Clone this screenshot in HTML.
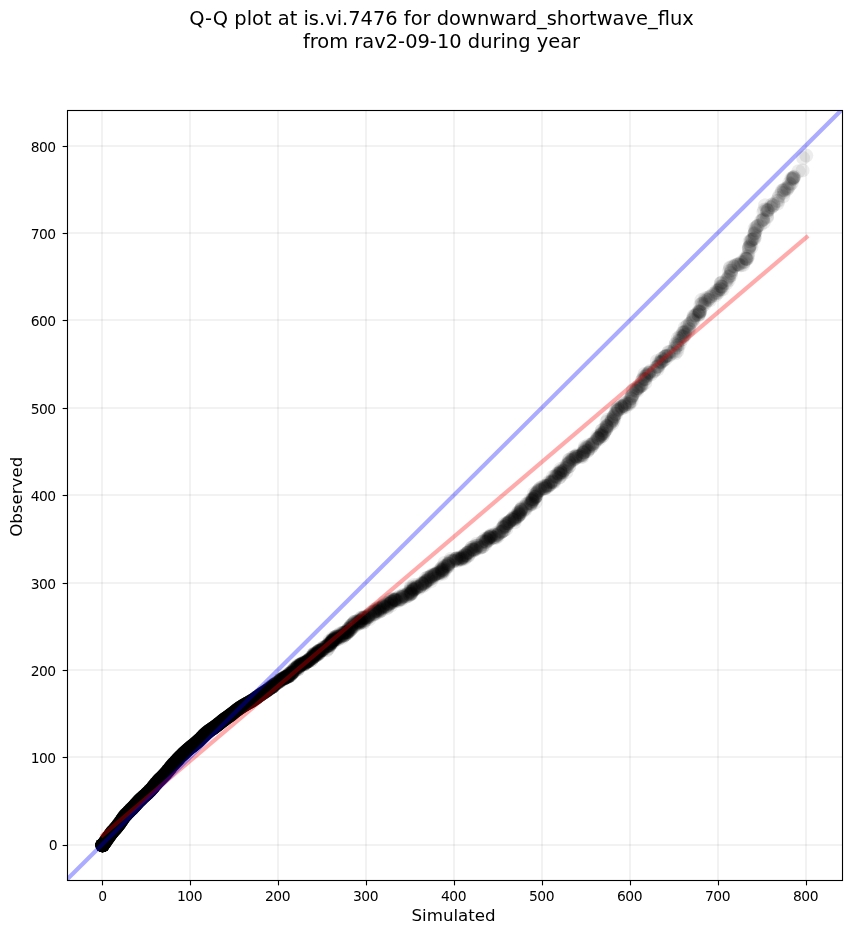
<!DOCTYPE html>
<html><head><meta charset="utf-8"><title>Q-Q plot</title>
<style>
html,body{margin:0;padding:0;background:#fff;}
svg{display:block;will-change:transform;font-family:"DejaVu Sans","Liberation Sans",sans-serif;fill:#000;}
</style></head><body>
<svg width="851" height="934" viewBox="0 0 851 934">
<rect width="851" height="934" fill="#fff"/>
<defs><clipPath id="ax"><rect x="67.5" y="110.5" width="775.0" height="770.0"/></clipPath></defs>
<g stroke="#000" stroke-opacity="0.052" stroke-width="2"><line x1="102.00" y1="110.5" x2="102.00" y2="880.5"/><line x1="190.00" y1="110.5" x2="190.00" y2="880.5"/><line x1="278.00" y1="110.5" x2="278.00" y2="880.5"/><line x1="366.00" y1="110.5" x2="366.00" y2="880.5"/><line x1="454.00" y1="110.5" x2="454.00" y2="880.5"/><line x1="542.00" y1="110.5" x2="542.00" y2="880.5"/><line x1="630.00" y1="110.5" x2="630.00" y2="880.5"/><line x1="718.00" y1="110.5" x2="718.00" y2="880.5"/><line x1="806.00" y1="110.5" x2="806.00" y2="880.5"/><line x1="67.5" y1="845.00" x2="842.5" y2="845.00"/><line x1="67.5" y1="757.00" x2="842.5" y2="757.00"/><line x1="67.5" y1="670.00" x2="842.5" y2="670.00"/><line x1="67.5" y1="583.00" x2="842.5" y2="583.00"/><line x1="67.5" y1="495.00" x2="842.5" y2="495.00"/><line x1="67.5" y1="408.00" x2="842.5" y2="408.00"/><line x1="67.5" y1="320.00" x2="842.5" y2="320.00"/><line x1="67.5" y1="233.00" x2="842.5" y2="233.00"/><line x1="67.5" y1="146.00" x2="842.5" y2="146.00"/></g>
<g clip-path="url(#ax)">
<g fill="#000"><circle cx="102.5" cy="845.3" r="7.0" fill-opacity="0.6"/><circle cx="102.5" cy="845.3" r="7.0" fill-opacity="0.6"/><circle cx="102.5" cy="845.3" r="7.0" fill-opacity="0.6"/><circle cx="102.5" cy="845.3" r="7.0" fill-opacity="0.6"/><circle cx="102.5" cy="845.3" r="7.0" fill-opacity="0.6"/><circle cx="102.5" cy="845.3" r="7.0" fill-opacity="0.6"/><circle cx="102.5" cy="845.3" r="7.0" fill-opacity="0.6"/><circle cx="102.5" cy="845.3" r="7.0" fill-opacity="0.6"/><circle cx="102.5" cy="845.3" r="7.0" fill-opacity="0.6"/><circle cx="102.5" cy="845.3" r="7.0" fill-opacity="0.6"/><circle cx="102.5" cy="845.3" r="7.0" fill-opacity="0.6"/><circle cx="102.5" cy="845.3" r="7.0" fill-opacity="0.6"/><circle cx="102.6" cy="845.4" r="7.0" fill-opacity="0.6"/><circle cx="103.1" cy="844.8" r="7.0" fill-opacity="0.6"/><circle cx="103.5" cy="844.2" r="7.0" fill-opacity="0.6"/><circle cx="104.0" cy="843.5" r="7.0" fill-opacity="0.6"/><circle cx="104.5" cy="842.9" r="7.0" fill-opacity="0.6"/><circle cx="104.9" cy="842.3" r="7.0" fill-opacity="0.6"/><circle cx="105.4" cy="841.7" r="7.0" fill-opacity="0.6"/><circle cx="105.8" cy="841.0" r="7.0" fill-opacity="0.6"/><circle cx="106.2" cy="840.4" r="7.0" fill-opacity="0.6"/><circle cx="106.7" cy="839.8" r="7.0" fill-opacity="0.6"/><circle cx="107.1" cy="839.1" r="7.0" fill-opacity="0.6"/><circle cx="107.5" cy="838.5" r="7.0" fill-opacity="0.6"/><circle cx="108.0" cy="837.9" r="7.0" fill-opacity="0.6"/><circle cx="108.4" cy="837.2" r="7.0" fill-opacity="0.6"/><circle cx="108.9" cy="836.6" r="7.0" fill-opacity="0.6"/><circle cx="109.3" cy="836.0" r="7.0" fill-opacity="0.6"/><circle cx="109.8" cy="835.4" r="7.0" fill-opacity="0.6"/><circle cx="110.2" cy="834.7" r="7.0" fill-opacity="0.6"/><circle cx="110.7" cy="834.1" r="7.0" fill-opacity="0.6"/><circle cx="111.2" cy="833.5" r="7.0" fill-opacity="0.6"/><circle cx="111.6" cy="832.9" r="7.0" fill-opacity="0.6"/><circle cx="112.1" cy="832.3" r="7.0" fill-opacity="0.6"/><circle cx="112.6" cy="831.7" r="7.0" fill-opacity="0.6"/><circle cx="113.1" cy="831.2" r="7.0" fill-opacity="0.6"/><circle cx="113.6" cy="830.6" r="7.0" fill-opacity="0.6"/><circle cx="114.1" cy="830.0" r="7.0" fill-opacity="0.6"/><circle cx="114.7" cy="829.4" r="7.0" fill-opacity="0.6"/><circle cx="115.2" cy="828.8" r="7.0" fill-opacity="0.6"/><circle cx="115.7" cy="828.3" r="7.0" fill-opacity="0.6"/><circle cx="116.2" cy="827.7" r="7.0" fill-opacity="0.6"/><circle cx="116.7" cy="827.1" r="7.0" fill-opacity="0.6"/><circle cx="117.2" cy="826.5" r="7.0" fill-opacity="0.6"/><circle cx="117.6" cy="825.9" r="7.0" fill-opacity="0.6"/><circle cx="118.1" cy="825.3" r="7.0" fill-opacity="0.6"/><circle cx="118.6" cy="824.7" r="7.0" fill-opacity="0.6"/><circle cx="119.1" cy="824.1" r="7.0" fill-opacity="0.6"/><circle cx="119.5" cy="823.5" r="7.0" fill-opacity="0.6"/><circle cx="120.0" cy="822.8" r="7.0" fill-opacity="0.6"/><circle cx="120.4" cy="822.2" r="7.0" fill-opacity="0.6"/><circle cx="120.8" cy="821.6" r="7.0" fill-opacity="0.6"/><circle cx="121.3" cy="820.9" r="7.0" fill-opacity="0.6"/><circle cx="121.7" cy="820.3" r="7.0" fill-opacity="0.6"/><circle cx="122.1" cy="819.6" r="7.0" fill-opacity="0.6"/><circle cx="122.6" cy="819.0" r="7.0" fill-opacity="0.6"/><circle cx="123.0" cy="818.4" r="7.0" fill-opacity="0.6"/><circle cx="123.4" cy="817.7" r="7.0" fill-opacity="0.6"/><circle cx="123.9" cy="817.1" r="7.0" fill-opacity="0.6"/><circle cx="124.4" cy="816.5" r="7.0" fill-opacity="0.6"/><circle cx="124.9" cy="815.9" r="7.0" fill-opacity="0.6"/><circle cx="125.4" cy="815.3" r="7.0" fill-opacity="0.6"/><circle cx="125.9" cy="814.8" r="7.0" fill-opacity="0.6"/><circle cx="126.4" cy="814.2" r="7.0" fill-opacity="0.6"/><circle cx="127.0" cy="813.7" r="7.0" fill-opacity="0.6"/><circle cx="127.5" cy="813.1" r="7.0" fill-opacity="0.6"/><circle cx="128.0" cy="812.6" r="7.0" fill-opacity="0.6"/><circle cx="128.6" cy="812.0" r="7.0" fill-opacity="0.6"/><circle cx="129.1" cy="811.5" r="7.0" fill-opacity="0.6"/><circle cx="129.7" cy="810.9" r="7.0" fill-opacity="0.6"/><circle cx="130.2" cy="810.4" r="7.0" fill-opacity="0.6"/><circle cx="130.8" cy="809.8" r="7.0" fill-opacity="0.6"/><circle cx="131.3" cy="809.3" r="7.0" fill-opacity="0.6"/><circle cx="131.9" cy="808.8" r="7.0" fill-opacity="0.6"/><circle cx="132.4" cy="808.2" r="7.0" fill-opacity="0.6"/><circle cx="132.9" cy="807.7" r="7.0" fill-opacity="0.6"/><circle cx="133.5" cy="807.1" r="7.0" fill-opacity="0.6"/><circle cx="134.0" cy="806.5" r="7.0" fill-opacity="0.6"/><circle cx="134.5" cy="806.0" r="7.0" fill-opacity="0.6"/><circle cx="135.0" cy="805.4" r="7.0" fill-opacity="0.6"/><circle cx="135.5" cy="804.8" r="7.0" fill-opacity="0.6"/><circle cx="136.1" cy="804.3" r="7.0" fill-opacity="0.6"/><circle cx="136.6" cy="803.7" r="7.0" fill-opacity="0.6"/><circle cx="137.1" cy="803.1" r="7.0" fill-opacity="0.6"/><circle cx="137.6" cy="802.5" r="7.0" fill-opacity="0.6"/><circle cx="138.1" cy="801.9" r="7.0" fill-opacity="0.6"/><circle cx="138.6" cy="801.4" r="7.0" fill-opacity="0.6"/><circle cx="139.2" cy="800.8" r="7.0" fill-opacity="0.6"/><circle cx="139.7" cy="800.3" r="7.0" fill-opacity="0.6"/><circle cx="140.3" cy="799.8" r="7.0" fill-opacity="0.6"/><circle cx="140.8" cy="799.2" r="7.0" fill-opacity="0.6"/><circle cx="141.4" cy="798.7" r="7.0" fill-opacity="0.6"/><circle cx="141.9" cy="798.2" r="7.0" fill-opacity="0.6"/><circle cx="142.5" cy="797.6" r="7.0" fill-opacity="0.6"/><circle cx="143.1" cy="797.1" r="7.0" fill-opacity="0.6"/><circle cx="143.6" cy="796.6" r="7.0" fill-opacity="0.6"/><circle cx="144.2" cy="796.1" r="7.0" fill-opacity="0.6"/><circle cx="144.8" cy="795.6" r="7.0" fill-opacity="0.6"/><circle cx="145.4" cy="795.1" r="7.0" fill-opacity="0.6"/><circle cx="145.9" cy="794.6" r="7.0" fill-opacity="0.6"/><circle cx="146.5" cy="794.0" r="7.0" fill-opacity="0.6"/><circle cx="147.1" cy="793.5" r="7.0" fill-opacity="0.6"/><circle cx="147.6" cy="793.0" r="7.0" fill-opacity="0.6"/><circle cx="148.2" cy="792.5" r="7.0" fill-opacity="0.6"/><circle cx="148.7" cy="791.9" r="7.0" fill-opacity="0.6"/><circle cx="149.3" cy="791.4" r="7.0" fill-opacity="0.6"/><circle cx="149.8" cy="790.8" r="7.0" fill-opacity="0.6"/><circle cx="150.3" cy="790.3" r="7.0" fill-opacity="0.6"/><circle cx="150.9" cy="789.7" r="7.0" fill-opacity="0.6"/><circle cx="151.4" cy="789.1" r="7.0" fill-opacity="0.6"/><circle cx="151.9" cy="788.6" r="7.0" fill-opacity="0.6"/><circle cx="152.4" cy="788.0" r="7.0" fill-opacity="0.6"/><circle cx="152.9" cy="787.4" r="7.0" fill-opacity="0.6"/><circle cx="153.4" cy="786.8" r="7.0" fill-opacity="0.6"/><circle cx="153.8" cy="786.2" r="7.0" fill-opacity="0.6"/><circle cx="154.3" cy="785.6" r="7.0" fill-opacity="0.6"/><circle cx="154.8" cy="785.0" r="7.0" fill-opacity="0.6"/><circle cx="155.3" cy="784.4" r="7.0" fill-opacity="0.6"/><circle cx="155.8" cy="783.8" r="7.0" fill-opacity="0.6"/><circle cx="156.3" cy="783.2" r="7.0" fill-opacity="0.6"/><circle cx="156.8" cy="782.6" r="7.0" fill-opacity="0.6"/><circle cx="157.3" cy="782.0" r="7.0" fill-opacity="0.6"/><circle cx="157.8" cy="781.5" r="7.0" fill-opacity="0.6"/><circle cx="158.3" cy="780.9" r="7.0" fill-opacity="0.6"/><circle cx="158.9" cy="780.3" r="7.0" fill-opacity="0.6"/><circle cx="159.4" cy="779.8" r="7.0" fill-opacity="0.6"/><circle cx="159.9" cy="779.2" r="7.0" fill-opacity="0.6"/><circle cx="160.5" cy="778.7" r="7.0" fill-opacity="0.6"/><circle cx="161.0" cy="778.2" r="7.0" fill-opacity="0.6"/><circle cx="161.6" cy="777.6" r="7.0" fill-opacity="0.6"/><circle cx="162.1" cy="777.1" r="7.0" fill-opacity="0.6"/><circle cx="162.7" cy="776.5" r="7.0" fill-opacity="0.6"/><circle cx="163.2" cy="776.0" r="7.0" fill-opacity="0.6"/><circle cx="163.8" cy="775.4" r="7.0" fill-opacity="0.6"/><circle cx="164.3" cy="774.9" r="7.0" fill-opacity="0.6"/><circle cx="164.8" cy="774.3" r="7.0" fill-opacity="0.6"/><circle cx="165.3" cy="773.7" r="7.0" fill-opacity="0.6"/><circle cx="165.9" cy="773.2" r="7.0" fill-opacity="0.6"/><circle cx="166.4" cy="772.6" r="7.0" fill-opacity="0.6"/><circle cx="166.9" cy="772.0" r="7.0" fill-opacity="0.6"/><circle cx="167.4" cy="771.4" r="7.0" fill-opacity="0.6"/><circle cx="167.8" cy="770.8" r="7.0" fill-opacity="0.6"/><circle cx="168.3" cy="770.2" r="7.0" fill-opacity="0.6"/><circle cx="168.8" cy="769.6" r="7.0" fill-opacity="0.6"/><circle cx="169.3" cy="769.0" r="7.0" fill-opacity="0.6"/><circle cx="169.8" cy="768.4" r="7.0" fill-opacity="0.6"/><circle cx="170.3" cy="767.8" r="7.0" fill-opacity="0.6"/><circle cx="170.8" cy="767.2" r="7.0" fill-opacity="0.6"/><circle cx="171.2" cy="766.6" r="7.0" fill-opacity="0.6"/><circle cx="171.7" cy="766.1" r="7.0" fill-opacity="0.6"/><circle cx="172.2" cy="765.5" r="7.0" fill-opacity="0.6"/><circle cx="172.7" cy="764.9" r="7.0" fill-opacity="0.6"/><circle cx="173.3" cy="764.3" r="7.0" fill-opacity="0.6"/><circle cx="173.8" cy="763.7" r="7.0" fill-opacity="0.6"/><circle cx="174.3" cy="763.2" r="7.0" fill-opacity="0.6"/><circle cx="174.8" cy="762.6" r="7.0" fill-opacity="0.6"/><circle cx="175.3" cy="762.0" r="7.0" fill-opacity="0.6"/><circle cx="175.9" cy="761.5" r="7.0" fill-opacity="0.6"/><circle cx="176.4" cy="760.9" r="7.0" fill-opacity="0.6"/><circle cx="176.9" cy="760.4" r="7.0" fill-opacity="0.6"/><circle cx="177.4" cy="759.8" r="7.0" fill-opacity="0.6"/><circle cx="178.0" cy="759.2" r="7.0" fill-opacity="0.6"/><circle cx="178.5" cy="758.7" r="7.0" fill-opacity="0.6"/><circle cx="179.0" cy="758.1" r="7.0" fill-opacity="0.6"/><circle cx="179.5" cy="757.5" r="7.0" fill-opacity="0.6"/><circle cx="180.0" cy="756.9" r="7.0" fill-opacity="0.6"/><circle cx="180.6" cy="756.4" r="7.0" fill-opacity="0.6"/><circle cx="181.2" cy="755.9" r="7.0" fill-opacity="0.6"/><circle cx="181.7" cy="755.4" r="7.0" fill-opacity="0.6"/><circle cx="182.3" cy="754.9" r="7.0" fill-opacity="0.6"/><circle cx="182.8" cy="754.3" r="7.0" fill-opacity="0.6"/><circle cx="183.4" cy="753.8" r="7.0" fill-opacity="0.6"/><circle cx="183.9" cy="753.3" r="7.0" fill-opacity="0.6"/><circle cx="184.5" cy="752.7" r="7.0" fill-opacity="0.6"/><circle cx="185.1" cy="752.2" r="7.0" fill-opacity="0.6"/><circle cx="185.6" cy="751.7" r="7.0" fill-opacity="0.6"/><circle cx="186.2" cy="751.1" r="7.0" fill-opacity="0.6"/><circle cx="186.7" cy="750.6" r="7.0" fill-opacity="0.6"/><circle cx="187.3" cy="750.1" r="7.0" fill-opacity="0.6"/><circle cx="187.9" cy="749.6" r="7.0" fill-opacity="0.6"/><circle cx="188.5" cy="749.1" r="7.0" fill-opacity="0.6"/><circle cx="189.1" cy="748.6" r="7.0" fill-opacity="0.6"/><circle cx="189.6" cy="748.1" r="7.0" fill-opacity="0.6"/><circle cx="190.2" cy="747.6" r="7.0" fill-opacity="0.6"/><circle cx="190.8" cy="747.1" r="7.0" fill-opacity="0.6"/><circle cx="191.5" cy="746.7" r="7.0" fill-opacity="0.6"/><circle cx="192.1" cy="746.2" r="7.0" fill-opacity="0.6"/><circle cx="192.7" cy="745.7" r="7.0" fill-opacity="0.6"/><circle cx="193.3" cy="745.2" r="7.0" fill-opacity="0.6"/><circle cx="193.9" cy="744.8" r="7.0" fill-opacity="0.6"/><circle cx="194.5" cy="744.3" r="7.0" fill-opacity="0.6"/><circle cx="195.1" cy="743.8" r="7.0" fill-opacity="0.6"/><circle cx="195.7" cy="743.3" r="7.0" fill-opacity="0.6"/><circle cx="196.3" cy="742.8" r="7.0" fill-opacity="0.6"/><circle cx="196.8" cy="742.3" r="7.0" fill-opacity="0.6"/><circle cx="197.4" cy="741.8" r="7.0" fill-opacity="0.6"/><circle cx="198.0" cy="741.3" r="7.0" fill-opacity="0.6"/><circle cx="198.5" cy="740.7" r="7.0" fill-opacity="0.6"/><circle cx="199.1" cy="740.2" r="7.0" fill-opacity="0.6"/><circle cx="199.6" cy="739.7" r="7.0" fill-opacity="0.6"/><circle cx="200.2" cy="739.1" r="7.0" fill-opacity="0.6"/><circle cx="200.7" cy="738.6" r="7.0" fill-opacity="0.6"/><circle cx="201.3" cy="738.0" r="7.0" fill-opacity="0.6"/><circle cx="201.8" cy="737.5" r="7.0" fill-opacity="0.6"/><circle cx="202.4" cy="736.9" r="7.0" fill-opacity="0.6"/><circle cx="202.9" cy="736.4" r="7.0" fill-opacity="0.6"/><circle cx="203.4" cy="735.8" r="7.0" fill-opacity="0.6"/><circle cx="204.0" cy="735.3" r="7.0" fill-opacity="0.6"/><circle cx="204.5" cy="734.8" r="7.0" fill-opacity="0.6"/><circle cx="205.1" cy="734.2" r="7.0" fill-opacity="0.6"/><circle cx="205.7" cy="733.7" r="7.0" fill-opacity="0.6"/><circle cx="206.2" cy="733.2" r="7.0" fill-opacity="0.6"/><circle cx="206.8" cy="732.7" r="7.0" fill-opacity="0.6"/><circle cx="207.4" cy="732.2" r="7.0" fill-opacity="0.6"/><circle cx="208.0" cy="731.7" r="7.0" fill-opacity="0.6"/><circle cx="208.6" cy="731.2" r="7.0" fill-opacity="0.6"/><circle cx="209.3" cy="730.8" r="7.0" fill-opacity="0.6"/><circle cx="209.9" cy="730.3" r="7.0" fill-opacity="0.6"/><circle cx="210.5" cy="729.9" r="7.0" fill-opacity="0.6"/><circle cx="211.2" cy="729.5" r="7.0" fill-opacity="0.6"/><circle cx="211.8" cy="729.0" r="7.0" fill-opacity="0.6"/><circle cx="212.4" cy="728.6" r="7.0" fill-opacity="0.6"/><circle cx="213.1" cy="728.2" r="7.0" fill-opacity="0.6"/><circle cx="213.7" cy="727.7" r="7.0" fill-opacity="0.6"/><circle cx="214.3" cy="727.3" r="7.0" fill-opacity="0.6"/><circle cx="215.0" cy="726.8" r="7.0" fill-opacity="0.6"/><circle cx="215.6" cy="726.4" r="7.0" fill-opacity="0.6"/><circle cx="216.2" cy="725.9" r="7.0" fill-opacity="0.6"/><circle cx="216.8" cy="725.4" r="7.0" fill-opacity="0.6"/><circle cx="217.4" cy="725.0" r="7.0" fill-opacity="0.6"/><circle cx="218.0" cy="724.5" r="7.0" fill-opacity="0.6"/><circle cx="218.6" cy="724.0" r="7.0" fill-opacity="0.6"/><circle cx="219.2" cy="723.5" r="7.0" fill-opacity="0.6"/><circle cx="219.8" cy="723.1" r="7.0" fill-opacity="0.6"/><circle cx="220.4" cy="722.6" r="7.0" fill-opacity="0.6"/><circle cx="221.0" cy="722.1" r="7.0" fill-opacity="0.6"/><circle cx="221.6" cy="721.6" r="7.0" fill-opacity="0.6"/><circle cx="222.2" cy="721.1" r="7.0" fill-opacity="0.6"/><circle cx="222.8" cy="720.6" r="7.0" fill-opacity="0.6"/><circle cx="223.4" cy="720.2" r="7.0" fill-opacity="0.6"/><circle cx="224.0" cy="719.7" r="7.0" fill-opacity="0.6"/><circle cx="224.6" cy="719.3" r="7.0" fill-opacity="0.6"/><circle cx="225.3" cy="718.8" r="7.0" fill-opacity="0.6"/><circle cx="225.9" cy="718.3" r="7.0" fill-opacity="0.6"/><circle cx="226.5" cy="717.9" r="7.0" fill-opacity="0.6"/><circle cx="227.1" cy="717.4" r="7.0" fill-opacity="0.6"/><circle cx="227.8" cy="717.0" r="7.0" fill-opacity="0.6"/><circle cx="228.4" cy="716.6" r="7.0" fill-opacity="0.6"/><circle cx="229.0" cy="716.1" r="7.0" fill-opacity="0.6"/><circle cx="229.7" cy="715.7" r="7.0" fill-opacity="0.6"/><circle cx="230.3" cy="715.2" r="7.0" fill-opacity="0.6"/><circle cx="230.9" cy="714.8" r="7.0" fill-opacity="0.6"/><circle cx="231.5" cy="714.3" r="7.0" fill-opacity="0.6"/><circle cx="232.1" cy="713.8" r="7.0" fill-opacity="0.6"/><circle cx="232.7" cy="713.4" r="7.0" fill-opacity="0.6"/><circle cx="233.3" cy="712.9" r="7.0" fill-opacity="0.6"/><circle cx="233.9" cy="712.4" r="7.0" fill-opacity="0.6"/><circle cx="234.5" cy="711.9" r="7.0" fill-opacity="0.6"/><circle cx="235.1" cy="711.4" r="7.0" fill-opacity="0.595"/><circle cx="235.7" cy="710.9" r="7.0" fill-opacity="0.59"/><circle cx="236.3" cy="710.4" r="7.0" fill-opacity="0.585"/><circle cx="236.9" cy="710.0" r="7.0" fill-opacity="0.58"/><circle cx="237.6" cy="709.5" r="7.0" fill-opacity="0.575"/><circle cx="238.2" cy="709.1" r="7.0" fill-opacity="0.57"/><circle cx="238.8" cy="708.6" r="7.0" fill-opacity="0.565"/><circle cx="239.4" cy="708.2" r="7.0" fill-opacity="0.56"/><circle cx="240.1" cy="707.7" r="7.0" fill-opacity="0.555"/><circle cx="240.7" cy="707.3" r="7.0" fill-opacity="0.55"/><circle cx="241.3" cy="706.9" r="7.0" fill-opacity="0.544"/><circle cx="242.0" cy="706.5" r="7.0" fill-opacity="0.539"/><circle cx="242.6" cy="706.1" r="7.0" fill-opacity="0.534"/><circle cx="243.3" cy="705.7" r="7.0" fill-opacity="0.529"/><circle cx="244.0" cy="705.3" r="7.0" fill-opacity="0.524"/><circle cx="244.6" cy="704.9" r="7.0" fill-opacity="0.519"/><circle cx="245.3" cy="704.5" r="7.0" fill-opacity="0.514"/><circle cx="246.0" cy="704.1" r="7.0" fill-opacity="0.508"/><circle cx="246.6" cy="703.7" r="7.0" fill-opacity="0.503"/><circle cx="247.3" cy="703.4" r="7.0" fill-opacity="0.498"/><circle cx="248.0" cy="703.0" r="7.0" fill-opacity="0.493"/><circle cx="248.7" cy="702.6" r="7.0" fill-opacity="0.488"/><circle cx="249.3" cy="702.3" r="7.0" fill-opacity="0.483"/><circle cx="250.0" cy="701.9" r="7.0" fill-opacity="0.477"/><circle cx="250.7" cy="701.5" r="7.0" fill-opacity="0.472"/><circle cx="251.3" cy="701.1" r="7.0" fill-opacity="0.467"/><circle cx="252.0" cy="700.7" r="7.0" fill-opacity="0.462"/><circle cx="252.6" cy="700.3" r="7.0" fill-opacity="0.457"/><circle cx="253.3" cy="699.9" r="7.0" fill-opacity="0.452"/><circle cx="253.9" cy="699.4" r="7.0" fill-opacity="0.447"/><circle cx="254.6" cy="699.0" r="7.0" fill-opacity="0.441"/><circle cx="255.2" cy="698.6" r="7.0" fill-opacity="0.436"/><circle cx="255.8" cy="698.1" r="7.0" fill-opacity="0.431"/><circle cx="256.5" cy="697.7" r="7.0" fill-opacity="0.426"/><circle cx="257.1" cy="697.2" r="7.0" fill-opacity="0.421"/><circle cx="257.7" cy="696.8" r="7.0" fill-opacity="0.416"/><circle cx="258.3" cy="696.3" r="7.0" fill-opacity="0.411"/><circle cx="259.0" cy="695.9" r="7.0" fill-opacity="0.405"/><circle cx="259.6" cy="695.4" r="7.0" fill-opacity="0.4"/><circle cx="260.2" cy="695.0" r="7.0" fill-opacity="0.395"/><circle cx="260.8" cy="694.5" r="7.0" fill-opacity="0.39"/><circle cx="261.5" cy="694.1" r="7.0" fill-opacity="0.385"/><circle cx="262.1" cy="693.7" r="7.0" fill-opacity="0.38"/><circle cx="262.7" cy="693.2" r="7.0" fill-opacity="0.375"/><circle cx="263.4" cy="692.8" r="7.0" fill-opacity="0.369"/><circle cx="264.0" cy="692.4" r="7.0" fill-opacity="0.364"/><circle cx="264.7" cy="692.0" r="7.0" fill-opacity="0.359"/><circle cx="265.3" cy="691.6" r="7.0" fill-opacity="0.354"/><circle cx="265.9" cy="691.1" r="7.0" fill-opacity="0.349"/><circle cx="266.6" cy="690.7" r="7.0" fill-opacity="0.344"/><circle cx="267.2" cy="690.3" r="7.0" fill-opacity="0.339"/><circle cx="267.9" cy="689.8" r="7.0" fill-opacity="0.334"/><circle cx="268.5" cy="689.4" r="7.0" fill-opacity="0.33"/><circle cx="269.1" cy="689.0" r="7.0" fill-opacity="0.325"/><circle cx="270.0" cy="688.4" r="7.0" fill-opacity="0.32"/><circle cx="270.1" cy="687.3" r="7.0" fill-opacity="0.315"/><circle cx="271.5" cy="687.3" r="7.0" fill-opacity="0.311"/><circle cx="271.7" cy="687.1" r="7.0" fill-opacity="0.306"/><circle cx="272.0" cy="687.2" r="7.0" fill-opacity="0.302"/><circle cx="272.9" cy="686.2" r="7.0" fill-opacity="0.297"/><circle cx="273.4" cy="686.4" r="7.0" fill-opacity="0.292"/><circle cx="273.1" cy="685.3" r="7.0" fill-opacity="0.288"/><circle cx="274.4" cy="684.7" r="7.0" fill-opacity="0.283"/><circle cx="274.0" cy="684.9" r="7.0" fill-opacity="0.277"/><circle cx="275.2" cy="683.8" r="7.0" fill-opacity="0.272"/><circle cx="275.7" cy="684.0" r="7.0" fill-opacity="0.266"/><circle cx="277.4" cy="682.6" r="7.0" fill-opacity="0.261"/><circle cx="277.6" cy="682.8" r="7.0" fill-opacity="0.255"/><circle cx="278.7" cy="681.5" r="7.0" fill-opacity="0.25"/><circle cx="279.7" cy="681.6" r="7.0" fill-opacity="0.247"/><circle cx="279.5" cy="680.6" r="7.0" fill-opacity="0.245"/><circle cx="280.6" cy="680.4" r="7.0" fill-opacity="0.243"/><circle cx="281.0" cy="679.2" r="7.0" fill-opacity="0.241"/><circle cx="281.0" cy="679.5" r="7.0" fill-opacity="0.239"/><circle cx="281.4" cy="679.9" r="7.0" fill-opacity="0.238"/><circle cx="282.5" cy="678.6" r="7.0" fill-opacity="0.236"/><circle cx="283.8" cy="678.8" r="7.0" fill-opacity="0.235"/><circle cx="283.8" cy="678.5" r="7.0" fill-opacity="0.233"/><circle cx="283.8" cy="677.4" r="7.0" fill-opacity="0.232"/><circle cx="284.7" cy="678.1" r="7.0" fill-opacity="0.231"/><circle cx="284.1" cy="678.4" r="7.0" fill-opacity="0.229"/><circle cx="285.2" cy="678.0" r="7.0" fill-opacity="0.228"/><circle cx="285.3" cy="677.5" r="7.0" fill-opacity="0.227"/><circle cx="285.6" cy="676.7" r="7.0" fill-opacity="0.226"/><circle cx="286.3" cy="676.7" r="7.0" fill-opacity="0.225"/><circle cx="286.5" cy="676.4" r="7.0" fill-opacity="0.223"/><circle cx="287.4" cy="676.5" r="7.0" fill-opacity="0.222"/><circle cx="287.4" cy="676.6" r="7.0" fill-opacity="0.221"/><circle cx="288.6" cy="676.6" r="7.0" fill-opacity="0.22"/><circle cx="287.7" cy="676.7" r="7.0" fill-opacity="0.219"/><circle cx="288.4" cy="675.5" r="7.0" fill-opacity="0.218"/><circle cx="288.7" cy="676.3" r="7.0" fill-opacity="0.217"/><circle cx="288.7" cy="675.8" r="7.0" fill-opacity="0.215"/><circle cx="289.3" cy="673.8" r="7.0" fill-opacity="0.214"/><circle cx="289.1" cy="674.1" r="7.0" fill-opacity="0.213"/><circle cx="290.7" cy="675.0" r="7.0" fill-opacity="0.212"/><circle cx="290.6" cy="672.6" r="7.0" fill-opacity="0.21"/><circle cx="290.8" cy="674.3" r="7.0" fill-opacity="0.209"/><circle cx="292.1" cy="673.1" r="7.0" fill-opacity="0.208"/><circle cx="291.4" cy="673.4" r="7.0" fill-opacity="0.206"/><circle cx="292.0" cy="672.6" r="7.0" fill-opacity="0.205"/><circle cx="292.3" cy="672.7" r="7.0" fill-opacity="0.203"/><circle cx="293.1" cy="671.7" r="7.0" fill-opacity="0.201"/><circle cx="292.8" cy="670.8" r="7.0" fill-opacity="0.199"/><circle cx="294.1" cy="671.6" r="7.0" fill-opacity="0.197"/><circle cx="293.8" cy="669.7" r="7.0" fill-opacity="0.196"/><circle cx="295.8" cy="669.6" r="7.0" fill-opacity="0.194"/><circle cx="296.5" cy="668.5" r="7.0" fill-opacity="0.192"/><circle cx="295.1" cy="668.2" r="7.0" fill-opacity="0.19"/><circle cx="298.0" cy="669.2" r="7.0" fill-opacity="0.188"/><circle cx="296.2" cy="667.9" r="7.0" fill-opacity="0.186"/><circle cx="297.2" cy="666.9" r="7.0" fill-opacity="0.185"/><circle cx="297.4" cy="667.0" r="7.0" fill-opacity="0.183"/><circle cx="298.6" cy="667.3" r="7.0" fill-opacity="0.182"/><circle cx="298.9" cy="666.9" r="7.0" fill-opacity="0.18"/><circle cx="298.8" cy="666.5" r="7.0" fill-opacity="0.179"/><circle cx="297.7" cy="665.8" r="7.0" fill-opacity="0.178"/><circle cx="299.7" cy="665.0" r="7.0" fill-opacity="0.176"/><circle cx="300.5" cy="665.5" r="7.0" fill-opacity="0.175"/><circle cx="301.2" cy="665.1" r="7.0" fill-opacity="0.174"/><circle cx="301.1" cy="664.5" r="7.0" fill-opacity="0.173"/><circle cx="300.5" cy="664.5" r="7.0" fill-opacity="0.172"/><circle cx="300.8" cy="664.0" r="7.0" fill-opacity="0.171"/><circle cx="301.5" cy="664.4" r="7.0" fill-opacity="0.17"/><circle cx="302.1" cy="663.8" r="7.0" fill-opacity="0.168"/><circle cx="301.7" cy="664.4" r="7.0" fill-opacity="0.167"/><circle cx="303.4" cy="664.2" r="7.0" fill-opacity="0.166"/><circle cx="303.2" cy="662.9" r="7.0" fill-opacity="0.165"/><circle cx="304.1" cy="664.6" r="7.0" fill-opacity="0.164"/><circle cx="305.0" cy="663.9" r="7.0" fill-opacity="0.163"/><circle cx="304.8" cy="661.8" r="7.0" fill-opacity="0.162"/><circle cx="305.0" cy="662.9" r="7.0" fill-opacity="0.161"/><circle cx="305.5" cy="662.7" r="7.0" fill-opacity="0.16"/><circle cx="305.5" cy="662.4" r="7.0" fill-opacity="0.159"/><circle cx="305.0" cy="662.6" r="7.0" fill-opacity="0.157"/><circle cx="305.9" cy="662.3" r="7.0" fill-opacity="0.156"/><circle cx="306.6" cy="662.3" r="7.0" fill-opacity="0.155"/><circle cx="307.4" cy="661.4" r="7.0" fill-opacity="0.154"/><circle cx="307.5" cy="661.3" r="7.0" fill-opacity="0.153"/><circle cx="307.4" cy="661.1" r="7.0" fill-opacity="0.152"/><circle cx="308.0" cy="661.3" r="7.0" fill-opacity="0.15"/><circle cx="308.7" cy="661.0" r="7.0" fill-opacity="0.149"/><circle cx="308.6" cy="661.4" r="7.0" fill-opacity="0.148"/><circle cx="308.5" cy="660.0" r="7.0" fill-opacity="0.147"/><circle cx="309.2" cy="659.6" r="7.0" fill-opacity="0.146"/><circle cx="309.7" cy="659.2" r="7.0" fill-opacity="0.144"/><circle cx="309.3" cy="659.2" r="7.0" fill-opacity="0.143"/><circle cx="311.1" cy="658.7" r="7.0" fill-opacity="0.142"/><circle cx="310.3" cy="659.3" r="7.0" fill-opacity="0.141"/><circle cx="311.3" cy="660.2" r="7.0" fill-opacity="0.14"/><circle cx="311.0" cy="659.1" r="7.0" fill-opacity="0.139"/><circle cx="311.3" cy="657.0" r="7.0" fill-opacity="0.138"/><circle cx="312.6" cy="658.4" r="7.0" fill-opacity="0.137"/><circle cx="312.6" cy="657.6" r="7.0" fill-opacity="0.136"/><circle cx="313.0" cy="657.2" r="7.0" fill-opacity="0.135"/><circle cx="312.9" cy="657.0" r="7.0" fill-opacity="0.134"/><circle cx="312.8" cy="656.1" r="7.0" fill-opacity="0.133"/><circle cx="313.3" cy="656.1" r="7.0" fill-opacity="0.132"/><circle cx="313.2" cy="657.0" r="7.0" fill-opacity="0.131"/><circle cx="314.8" cy="656.3" r="7.0" fill-opacity="0.13"/><circle cx="314.0" cy="656.6" r="7.0" fill-opacity="0.13"/><circle cx="313.9" cy="655.9" r="7.0" fill-opacity="0.129"/><circle cx="313.3" cy="654.2" r="7.0" fill-opacity="0.128"/><circle cx="314.2" cy="654.7" r="7.0" fill-opacity="0.127"/><circle cx="313.8" cy="654.5" r="7.0" fill-opacity="0.126"/><circle cx="313.9" cy="654.9" r="7.0" fill-opacity="0.126"/><circle cx="316.3" cy="655.6" r="7.0" fill-opacity="0.125"/><circle cx="315.9" cy="655.3" r="7.0" fill-opacity="0.124"/><circle cx="314.6" cy="653.3" r="7.0" fill-opacity="0.123"/><circle cx="316.0" cy="654.5" r="7.0" fill-opacity="0.123"/><circle cx="316.0" cy="654.4" r="7.0" fill-opacity="0.122"/><circle cx="316.0" cy="653.2" r="7.0" fill-opacity="0.121"/><circle cx="315.7" cy="654.0" r="7.0" fill-opacity="0.121"/><circle cx="316.3" cy="653.4" r="7.0" fill-opacity="0.12"/><circle cx="318.0" cy="654.2" r="7.0" fill-opacity="0.119"/><circle cx="317.2" cy="653.8" r="7.0" fill-opacity="0.118"/><circle cx="317.9" cy="653.2" r="7.0" fill-opacity="0.118"/><circle cx="317.6" cy="652.3" r="7.0" fill-opacity="0.117"/><circle cx="318.9" cy="653.8" r="7.0" fill-opacity="0.116"/><circle cx="317.9" cy="651.9" r="7.0" fill-opacity="0.115"/><circle cx="318.9" cy="653.0" r="7.0" fill-opacity="0.115"/><circle cx="318.2" cy="651.7" r="7.0" fill-opacity="0.114"/><circle cx="318.5" cy="650.7" r="7.0" fill-opacity="0.113"/><circle cx="318.9" cy="651.7" r="7.0" fill-opacity="0.112"/><circle cx="319.1" cy="652.9" r="7.0" fill-opacity="0.111"/><circle cx="318.8" cy="650.6" r="7.0" fill-opacity="0.111"/><circle cx="319.5" cy="650.8" r="7.0" fill-opacity="0.11"/><circle cx="318.5" cy="651.3" r="7.0" fill-opacity="0.109"/><circle cx="320.4" cy="651.3" r="7.0" fill-opacity="0.108"/><circle cx="320.4" cy="650.8" r="7.0" fill-opacity="0.107"/><circle cx="320.7" cy="650.3" r="7.0" fill-opacity="0.106"/><circle cx="321.5" cy="650.1" r="7.0" fill-opacity="0.105"/><circle cx="321.5" cy="650.5" r="7.0" fill-opacity="0.104"/><circle cx="320.6" cy="650.0" r="7.0" fill-opacity="0.103"/><circle cx="322.7" cy="649.5" r="7.0" fill-opacity="0.102"/><circle cx="322.1" cy="650.0" r="7.0" fill-opacity="0.101"/><circle cx="322.3" cy="649.8" r="7.0" fill-opacity="0.1"/><circle cx="322.6" cy="649.7" r="7.0" fill-opacity="0.0997"/><circle cx="323.0" cy="650.5" r="7.0" fill-opacity="0.0994"/><circle cx="322.4" cy="647.9" r="7.0" fill-opacity="0.099"/><circle cx="323.5" cy="648.4" r="7.0" fill-opacity="0.0986"/><circle cx="323.7" cy="647.4" r="7.0" fill-opacity="0.0982"/><circle cx="326.7" cy="650.3" r="7.0" fill-opacity="0.0978"/><circle cx="324.4" cy="648.5" r="7.0" fill-opacity="0.0974"/><circle cx="325.3" cy="647.8" r="7.0" fill-opacity="0.097"/><circle cx="324.1" cy="647.2" r="7.0" fill-opacity="0.0966"/><circle cx="326.2" cy="646.8" r="7.0" fill-opacity="0.0962"/><circle cx="326.8" cy="645.6" r="7.0" fill-opacity="0.0959"/><circle cx="328.3" cy="648.5" r="7.0" fill-opacity="0.0955"/><circle cx="326.0" cy="646.0" r="7.0" fill-opacity="0.0952"/><circle cx="327.1" cy="646.0" r="7.0" fill-opacity="0.0949"/><circle cx="327.9" cy="645.6" r="7.0" fill-opacity="0.0946"/><circle cx="327.4" cy="646.1" r="7.0" fill-opacity="0.0943"/><circle cx="329.8" cy="645.4" r="7.0" fill-opacity="0.094"/><circle cx="326.8" cy="646.1" r="7.0" fill-opacity="0.0937"/><circle cx="328.3" cy="645.8" r="7.0" fill-opacity="0.0934"/><circle cx="329.5" cy="646.2" r="7.0" fill-opacity="0.0932"/><circle cx="329.7" cy="644.9" r="7.0" fill-opacity="0.0929"/><circle cx="329.0" cy="644.3" r="7.0" fill-opacity="0.0927"/><circle cx="330.0" cy="645.1" r="7.0" fill-opacity="0.0924"/><circle cx="329.4" cy="643.6" r="7.0" fill-opacity="0.0922"/><circle cx="330.2" cy="643.6" r="7.0" fill-opacity="0.092"/><circle cx="329.2" cy="643.2" r="7.0" fill-opacity="0.0918"/><circle cx="329.3" cy="643.3" r="7.0" fill-opacity="0.0915"/><circle cx="329.4" cy="645.0" r="7.0" fill-opacity="0.0913"/><circle cx="330.3" cy="642.9" r="7.0" fill-opacity="0.0911"/><circle cx="331.0" cy="643.0" r="7.0" fill-opacity="0.0909"/><circle cx="329.3" cy="641.0" r="7.0" fill-opacity="0.0907"/><circle cx="330.9" cy="643.2" r="7.0" fill-opacity="0.0905"/><circle cx="332.5" cy="643.4" r="7.0" fill-opacity="0.0903"/><circle cx="330.9" cy="641.1" r="7.0" fill-opacity="0.0901"/><circle cx="330.6" cy="643.3" r="7.0" fill-opacity="0.0899"/><circle cx="331.8" cy="642.8" r="7.0" fill-opacity="0.0897"/><circle cx="331.5" cy="642.1" r="7.0" fill-opacity="0.0895"/><circle cx="331.2" cy="642.6" r="7.0" fill-opacity="0.0893"/><circle cx="331.8" cy="642.0" r="7.0" fill-opacity="0.0892"/><circle cx="332.0" cy="641.2" r="7.0" fill-opacity="0.089"/><circle cx="332.2" cy="641.2" r="7.0" fill-opacity="0.0888"/><circle cx="332.8" cy="641.3" r="7.0" fill-opacity="0.0886"/><circle cx="331.8" cy="640.8" r="7.0" fill-opacity="0.0884"/><circle cx="333.1" cy="640.3" r="7.0" fill-opacity="0.0882"/><circle cx="333.3" cy="640.7" r="7.0" fill-opacity="0.088"/><circle cx="332.2" cy="640.2" r="7.0" fill-opacity="0.0878"/><circle cx="333.2" cy="640.6" r="7.0" fill-opacity="0.0876"/><circle cx="332.6" cy="639.2" r="7.0" fill-opacity="0.0875"/><circle cx="333.0" cy="640.3" r="7.0" fill-opacity="0.0873"/><circle cx="332.8" cy="637.8" r="7.0" fill-opacity="0.0871"/><circle cx="333.5" cy="639.4" r="7.0" fill-opacity="0.0869"/><circle cx="333.7" cy="639.3" r="7.0" fill-opacity="0.0867"/><circle cx="335.0" cy="640.7" r="7.0" fill-opacity="0.0865"/><circle cx="334.5" cy="639.7" r="7.0" fill-opacity="0.0863"/><circle cx="334.0" cy="638.7" r="7.0" fill-opacity="0.0861"/><circle cx="334.6" cy="638.9" r="7.0" fill-opacity="0.0859"/><circle cx="334.3" cy="639.3" r="7.0" fill-opacity="0.0857"/><circle cx="335.1" cy="639.6" r="7.0" fill-opacity="0.0855"/><circle cx="334.7" cy="638.4" r="7.0" fill-opacity="0.0853"/><circle cx="336.4" cy="638.9" r="7.0" fill-opacity="0.0851"/><circle cx="336.3" cy="638.6" r="7.0" fill-opacity="0.0849"/><circle cx="335.3" cy="638.1" r="7.0" fill-opacity="0.0846"/><circle cx="336.2" cy="639.1" r="7.0" fill-opacity="0.0844"/><circle cx="335.2" cy="637.0" r="7.0" fill-opacity="0.0842"/><circle cx="335.4" cy="637.0" r="7.0" fill-opacity="0.084"/><circle cx="335.8" cy="636.9" r="7.0" fill-opacity="0.0837"/><circle cx="336.1" cy="638.3" r="7.0" fill-opacity="0.0835"/><circle cx="335.9" cy="636.4" r="7.0" fill-opacity="0.0833"/><circle cx="338.8" cy="638.9" r="7.0" fill-opacity="0.083"/><circle cx="337.7" cy="639.3" r="7.0" fill-opacity="0.0828"/><circle cx="337.0" cy="637.1" r="7.0" fill-opacity="0.0825"/><circle cx="337.0" cy="636.1" r="7.0" fill-opacity="0.0823"/><circle cx="339.1" cy="636.9" r="7.0" fill-opacity="0.082"/><circle cx="337.9" cy="636.9" r="7.0" fill-opacity="0.0818"/><circle cx="337.7" cy="637.0" r="7.0" fill-opacity="0.0815"/><circle cx="338.4" cy="634.9" r="7.0" fill-opacity="0.0812"/><circle cx="339.1" cy="636.7" r="7.0" fill-opacity="0.0809"/><circle cx="340.9" cy="637.0" r="7.0" fill-opacity="0.0807"/><circle cx="339.1" cy="635.8" r="7.0" fill-opacity="0.0804"/><circle cx="340.1" cy="635.6" r="7.0" fill-opacity="0.0801"/><circle cx="340.9" cy="636.9" r="7.0" fill-opacity="0.0798"/><circle cx="341.7" cy="635.3" r="7.0" fill-opacity="0.0796"/><circle cx="341.2" cy="636.2" r="7.0" fill-opacity="0.0793"/><circle cx="340.3" cy="636.3" r="7.0" fill-opacity="0.079"/><circle cx="342.4" cy="637.7" r="7.0" fill-opacity="0.0787"/><circle cx="342.3" cy="635.1" r="7.0" fill-opacity="0.0785"/><circle cx="340.5" cy="633.2" r="7.0" fill-opacity="0.0782"/><circle cx="343.7" cy="636.0" r="7.0" fill-opacity="0.0779"/><circle cx="342.7" cy="635.7" r="7.0" fill-opacity="0.0776"/><circle cx="342.3" cy="633.2" r="7.0" fill-opacity="0.0774"/><circle cx="344.4" cy="635.3" r="7.0" fill-opacity="0.0771"/><circle cx="343.5" cy="634.3" r="7.0" fill-opacity="0.0769"/><circle cx="343.1" cy="632.8" r="7.0" fill-opacity="0.0766"/><circle cx="344.6" cy="635.0" r="7.0" fill-opacity="0.0764"/><circle cx="344.1" cy="635.3" r="7.0" fill-opacity="0.0761"/><circle cx="342.9" cy="632.4" r="7.0" fill-opacity="0.0759"/><circle cx="343.9" cy="633.0" r="7.0" fill-opacity="0.0756"/><circle cx="344.3" cy="632.6" r="7.0" fill-opacity="0.0754"/><circle cx="345.1" cy="632.5" r="7.0" fill-opacity="0.0752"/><circle cx="345.0" cy="632.8" r="7.0" fill-opacity="0.0749"/><circle cx="346.0" cy="634.3" r="7.0" fill-opacity="0.0747"/><circle cx="345.5" cy="632.7" r="7.0" fill-opacity="0.0744"/><circle cx="345.9" cy="634.4" r="7.0" fill-opacity="0.0742"/><circle cx="346.2" cy="632.3" r="7.0" fill-opacity="0.074"/><circle cx="345.7" cy="631.7" r="7.0" fill-opacity="0.0738"/><circle cx="345.4" cy="632.2" r="7.0" fill-opacity="0.0735"/><circle cx="346.9" cy="632.5" r="7.0" fill-opacity="0.0733"/><circle cx="346.8" cy="633.1" r="7.0" fill-opacity="0.0731"/><circle cx="347.4" cy="631.9" r="7.0" fill-opacity="0.0729"/><circle cx="347.5" cy="631.3" r="7.0" fill-opacity="0.0727"/><circle cx="347.5" cy="632.1" r="7.0" fill-opacity="0.0724"/><circle cx="347.9" cy="632.2" r="7.0" fill-opacity="0.0722"/><circle cx="347.9" cy="633.0" r="7.0" fill-opacity="0.072"/><circle cx="347.3" cy="631.3" r="7.0" fill-opacity="0.0718"/><circle cx="347.7" cy="632.0" r="7.0" fill-opacity="0.0715"/><circle cx="349.5" cy="631.3" r="7.0" fill-opacity="0.0713"/><circle cx="347.8" cy="629.1" r="7.0" fill-opacity="0.0711"/><circle cx="347.8" cy="630.4" r="7.0" fill-opacity="0.0709"/><circle cx="348.9" cy="631.6" r="7.0" fill-opacity="0.0707"/><circle cx="348.9" cy="630.0" r="7.0" fill-opacity="0.0704"/><circle cx="348.7" cy="628.9" r="7.0" fill-opacity="0.0702"/><circle cx="348.2" cy="629.3" r="7.0" fill-opacity="0.07"/><circle cx="349.8" cy="629.7" r="7.0" fill-opacity="0.07"/><circle cx="350.5" cy="630.1" r="7.0" fill-opacity="0.07"/><circle cx="348.6" cy="629.2" r="7.0" fill-opacity="0.07"/><circle cx="349.1" cy="627.7" r="7.0" fill-opacity="0.07"/><circle cx="350.4" cy="629.8" r="7.0" fill-opacity="0.07"/><circle cx="351.5" cy="629.0" r="7.0" fill-opacity="0.07"/><circle cx="350.3" cy="628.1" r="7.0" fill-opacity="0.07"/><circle cx="351.0" cy="627.3" r="7.0" fill-opacity="0.07"/><circle cx="351.8" cy="628.8" r="7.0" fill-opacity="0.07"/><circle cx="350.4" cy="627.2" r="7.0" fill-opacity="0.07"/><circle cx="351.6" cy="627.9" r="7.0" fill-opacity="0.07"/><circle cx="351.8" cy="627.1" r="7.0" fill-opacity="0.07"/><circle cx="351.0" cy="625.2" r="7.0" fill-opacity="0.07"/><circle cx="351.4" cy="627.1" r="7.0" fill-opacity="0.07"/><circle cx="350.7" cy="625.6" r="7.0" fill-opacity="0.07"/><circle cx="351.0" cy="625.9" r="7.0" fill-opacity="0.07"/><circle cx="351.8" cy="625.1" r="7.0" fill-opacity="0.07"/><circle cx="354.0" cy="627.0" r="7.0" fill-opacity="0.07"/><circle cx="353.8" cy="626.6" r="7.0" fill-opacity="0.07"/><circle cx="352.8" cy="624.1" r="7.0" fill-opacity="0.07"/><circle cx="352.8" cy="624.2" r="7.0" fill-opacity="0.07"/><circle cx="353.6" cy="623.3" r="7.0" fill-opacity="0.07"/><circle cx="355.3" cy="624.4" r="7.0" fill-opacity="0.07"/><circle cx="353.6" cy="625.9" r="7.0" fill-opacity="0.07"/><circle cx="355.2" cy="622.7" r="7.0" fill-opacity="0.07"/><circle cx="354.4" cy="621.8" r="7.0" fill-opacity="0.07"/><circle cx="354.3" cy="622.1" r="7.0" fill-opacity="0.07"/><circle cx="354.7" cy="621.7" r="7.0" fill-opacity="0.07"/><circle cx="354.4" cy="624.8" r="7.0" fill-opacity="0.07"/><circle cx="357.1" cy="621.7" r="7.0" fill-opacity="0.07"/><circle cx="356.9" cy="622.8" r="7.0" fill-opacity="0.07"/><circle cx="356.8" cy="623.6" r="7.0" fill-opacity="0.07"/><circle cx="357.0" cy="620.9" r="7.0" fill-opacity="0.07"/><circle cx="357.7" cy="622.7" r="7.0" fill-opacity="0.07"/><circle cx="357.6" cy="624.5" r="7.0" fill-opacity="0.07"/><circle cx="358.1" cy="620.7" r="7.0" fill-opacity="0.07"/><circle cx="358.9" cy="621.6" r="7.0" fill-opacity="0.07"/><circle cx="359.0" cy="623.5" r="7.0" fill-opacity="0.07"/><circle cx="358.7" cy="622.2" r="7.0" fill-opacity="0.07"/><circle cx="360.3" cy="622.5" r="7.0" fill-opacity="0.07"/><circle cx="358.4" cy="620.2" r="7.0" fill-opacity="0.07"/><circle cx="358.9" cy="623.3" r="7.0" fill-opacity="0.07"/><circle cx="358.9" cy="622.1" r="7.0" fill-opacity="0.07"/><circle cx="358.8" cy="621.7" r="7.0" fill-opacity="0.07"/><circle cx="360.1" cy="623.4" r="7.0" fill-opacity="0.07"/><circle cx="359.3" cy="621.6" r="7.0" fill-opacity="0.07"/><circle cx="360.8" cy="622.4" r="7.0" fill-opacity="0.07"/><circle cx="359.6" cy="621.6" r="7.0" fill-opacity="0.07"/><circle cx="360.8" cy="621.6" r="7.0" fill-opacity="0.07"/><circle cx="360.7" cy="620.3" r="7.0" fill-opacity="0.07"/><circle cx="360.9" cy="620.4" r="7.0" fill-opacity="0.07"/><circle cx="361.4" cy="620.4" r="7.0" fill-opacity="0.07"/><circle cx="361.1" cy="620.8" r="7.0" fill-opacity="0.07"/><circle cx="363.3" cy="622.5" r="7.0" fill-opacity="0.07"/><circle cx="361.8" cy="620.9" r="7.0" fill-opacity="0.07"/><circle cx="361.4" cy="617.8" r="7.0" fill-opacity="0.07"/><circle cx="360.5" cy="619.8" r="7.0" fill-opacity="0.07"/><circle cx="364.0" cy="622.5" r="7.0" fill-opacity="0.07"/><circle cx="363.7" cy="621.0" r="7.0" fill-opacity="0.07"/><circle cx="361.1" cy="617.7" r="7.0" fill-opacity="0.07"/><circle cx="362.5" cy="621.6" r="7.0" fill-opacity="0.07"/><circle cx="362.5" cy="618.4" r="7.0" fill-opacity="0.07"/><circle cx="363.1" cy="617.7" r="7.0" fill-opacity="0.07"/><circle cx="365.2" cy="620.4" r="7.0" fill-opacity="0.07"/><circle cx="362.7" cy="618.6" r="7.0" fill-opacity="0.07"/><circle cx="363.8" cy="617.8" r="7.0" fill-opacity="0.07"/><circle cx="364.0" cy="617.6" r="7.0" fill-opacity="0.07"/><circle cx="365.0" cy="618.7" r="7.0" fill-opacity="0.07"/><circle cx="363.8" cy="618.1" r="7.0" fill-opacity="0.07"/><circle cx="363.8" cy="616.8" r="7.0" fill-opacity="0.07"/><circle cx="364.7" cy="618.3" r="7.0" fill-opacity="0.07"/><circle cx="364.9" cy="616.9" r="7.0" fill-opacity="0.07"/><circle cx="366.4" cy="617.3" r="7.0" fill-opacity="0.07"/><circle cx="365.9" cy="620.0" r="7.0" fill-opacity="0.07"/><circle cx="367.0" cy="617.1" r="7.0" fill-opacity="0.07"/><circle cx="365.7" cy="618.2" r="7.0" fill-opacity="0.07"/><circle cx="365.9" cy="617.6" r="7.0" fill-opacity="0.07"/><circle cx="368.1" cy="617.2" r="7.0" fill-opacity="0.07"/><circle cx="367.3" cy="617.6" r="7.0" fill-opacity="0.07"/><circle cx="367.8" cy="618.0" r="7.0" fill-opacity="0.07"/><circle cx="368.0" cy="616.1" r="7.0" fill-opacity="0.07"/><circle cx="369.4" cy="619.1" r="7.0" fill-opacity="0.07"/><circle cx="368.4" cy="616.0" r="7.0" fill-opacity="0.07"/><circle cx="370.1" cy="615.2" r="7.0" fill-opacity="0.07"/><circle cx="368.3" cy="617.1" r="7.0" fill-opacity="0.07"/><circle cx="368.1" cy="615.6" r="7.0" fill-opacity="0.07"/><circle cx="369.7" cy="615.1" r="7.0" fill-opacity="0.07"/><circle cx="368.8" cy="614.9" r="7.0" fill-opacity="0.07"/><circle cx="370.4" cy="616.3" r="7.0" fill-opacity="0.07"/><circle cx="369.6" cy="614.3" r="7.0" fill-opacity="0.07"/><circle cx="372.4" cy="612.5" r="7.0" fill-opacity="0.07"/><circle cx="373.5" cy="614.5" r="7.0" fill-opacity="0.07"/><circle cx="370.8" cy="612.2" r="7.0" fill-opacity="0.07"/><circle cx="373.0" cy="613.8" r="7.0" fill-opacity="0.07"/><circle cx="373.5" cy="612.6" r="7.0" fill-opacity="0.07"/><circle cx="374.9" cy="613.6" r="7.0" fill-opacity="0.07"/><circle cx="373.4" cy="614.6" r="7.0" fill-opacity="0.07"/><circle cx="373.6" cy="611.7" r="7.0" fill-opacity="0.07"/><circle cx="375.1" cy="614.3" r="7.0" fill-opacity="0.07"/><circle cx="374.2" cy="609.6" r="7.0" fill-opacity="0.07"/><circle cx="374.9" cy="611.6" r="7.0" fill-opacity="0.07"/><circle cx="374.8" cy="611.2" r="7.0" fill-opacity="0.07"/><circle cx="375.0" cy="613.1" r="7.0" fill-opacity="0.07"/><circle cx="374.9" cy="611.4" r="7.0" fill-opacity="0.07"/><circle cx="375.3" cy="610.7" r="7.0" fill-opacity="0.07"/><circle cx="377.3" cy="611.1" r="7.0" fill-opacity="0.07"/><circle cx="375.7" cy="610.2" r="7.0" fill-opacity="0.07"/><circle cx="377.4" cy="612.0" r="7.0" fill-opacity="0.07"/><circle cx="377.7" cy="610.9" r="7.0" fill-opacity="0.07"/><circle cx="377.3" cy="610.4" r="7.0" fill-opacity="0.07"/><circle cx="377.0" cy="608.4" r="7.0" fill-opacity="0.07"/><circle cx="379.0" cy="608.8" r="7.0" fill-opacity="0.07"/><circle cx="379.1" cy="611.9" r="7.0" fill-opacity="0.07"/><circle cx="379.1" cy="610.0" r="7.0" fill-opacity="0.07"/><circle cx="377.8" cy="608.5" r="7.0" fill-opacity="0.07"/><circle cx="380.4" cy="611.0" r="7.0" fill-opacity="0.07"/><circle cx="380.0" cy="611.6" r="7.0" fill-opacity="0.07"/><circle cx="378.7" cy="609.3" r="7.0" fill-opacity="0.07"/><circle cx="380.6" cy="609.3" r="7.0" fill-opacity="0.07"/><circle cx="380.5" cy="608.3" r="7.0" fill-opacity="0.07"/><circle cx="378.9" cy="607.7" r="7.0" fill-opacity="0.07"/><circle cx="379.5" cy="608.5" r="7.0" fill-opacity="0.07"/><circle cx="380.6" cy="609.9" r="7.0" fill-opacity="0.07"/><circle cx="379.9" cy="607.0" r="7.0" fill-opacity="0.07"/><circle cx="383.1" cy="606.7" r="7.0" fill-opacity="0.07"/><circle cx="382.1" cy="610.4" r="7.0" fill-opacity="0.07"/><circle cx="382.5" cy="606.6" r="7.0" fill-opacity="0.07"/><circle cx="381.0" cy="607.8" r="7.0" fill-opacity="0.07"/><circle cx="383.6" cy="607.2" r="7.0" fill-opacity="0.07"/><circle cx="382.6" cy="608.2" r="7.0" fill-opacity="0.07"/><circle cx="383.5" cy="605.6" r="7.0" fill-opacity="0.07"/><circle cx="382.6" cy="606.1" r="7.0" fill-opacity="0.07"/><circle cx="386.9" cy="608.2" r="7.0" fill-opacity="0.07"/><circle cx="385.0" cy="606.4" r="7.0" fill-opacity="0.07"/><circle cx="383.8" cy="604.2" r="7.0" fill-opacity="0.07"/><circle cx="384.3" cy="605.0" r="7.0" fill-opacity="0.07"/><circle cx="383.7" cy="606.1" r="7.0" fill-opacity="0.07"/><circle cx="385.5" cy="606.8" r="7.0" fill-opacity="0.07"/><circle cx="386.4" cy="605.8" r="7.0" fill-opacity="0.07"/><circle cx="385.6" cy="606.7" r="7.0" fill-opacity="0.07"/><circle cx="386.9" cy="606.6" r="7.0" fill-opacity="0.07"/><circle cx="384.3" cy="602.4" r="7.0" fill-opacity="0.07"/><circle cx="387.8" cy="607.4" r="7.0" fill-opacity="0.07"/><circle cx="387.5" cy="604.1" r="7.0" fill-opacity="0.07"/><circle cx="388.5" cy="604.5" r="7.0" fill-opacity="0.07"/><circle cx="387.9" cy="603.2" r="7.0" fill-opacity="0.07"/><circle cx="388.3" cy="603.9" r="7.0" fill-opacity="0.07"/><circle cx="387.3" cy="602.5" r="7.0" fill-opacity="0.07"/><circle cx="389.4" cy="604.3" r="7.0" fill-opacity="0.07"/><circle cx="389.8" cy="603.3" r="7.0" fill-opacity="0.07"/><circle cx="391.1" cy="605.5" r="7.0" fill-opacity="0.07"/><circle cx="390.4" cy="603.6" r="7.0" fill-opacity="0.07"/><circle cx="391.5" cy="601.6" r="7.0" fill-opacity="0.07"/><circle cx="390.9" cy="603.2" r="7.0" fill-opacity="0.07"/><circle cx="391.9" cy="601.6" r="7.0" fill-opacity="0.07"/><circle cx="391.1" cy="601.7" r="7.0" fill-opacity="0.07"/><circle cx="390.7" cy="603.3" r="7.0" fill-opacity="0.07"/><circle cx="390.2" cy="599.5" r="7.0" fill-opacity="0.07"/><circle cx="390.5" cy="599.3" r="7.0" fill-opacity="0.07"/><circle cx="391.1" cy="601.4" r="7.0" fill-opacity="0.07"/><circle cx="392.0" cy="602.4" r="7.0" fill-opacity="0.07"/><circle cx="391.5" cy="601.6" r="7.0" fill-opacity="0.07"/><circle cx="393.9" cy="602.1" r="7.0" fill-opacity="0.07"/><circle cx="393.8" cy="600.4" r="7.0" fill-opacity="0.07"/><circle cx="393.3" cy="600.3" r="7.0" fill-opacity="0.07"/><circle cx="394.1" cy="599.1" r="7.0" fill-opacity="0.07"/><circle cx="394.2" cy="599.9" r="7.0" fill-opacity="0.07"/><circle cx="394.2" cy="599.7" r="7.0" fill-opacity="0.07"/><circle cx="395.7" cy="598.4" r="7.0" fill-opacity="0.07"/><circle cx="395.1" cy="600.1" r="7.0" fill-opacity="0.07"/><circle cx="395.8" cy="600.1" r="7.0" fill-opacity="0.07"/><circle cx="396.3" cy="600.7" r="7.0" fill-opacity="0.07"/><circle cx="394.6" cy="600.2" r="7.0" fill-opacity="0.07"/><circle cx="395.2" cy="600.3" r="7.0" fill-opacity="0.07"/><circle cx="394.9" cy="598.9" r="7.0" fill-opacity="0.07"/><circle cx="397.5" cy="601.0" r="7.0" fill-opacity="0.07"/><circle cx="397.7" cy="599.5" r="7.0" fill-opacity="0.07"/><circle cx="398.0" cy="597.7" r="7.0" fill-opacity="0.07"/><circle cx="395.9" cy="599.7" r="7.0" fill-opacity="0.07"/><circle cx="398.7" cy="600.7" r="7.0" fill-opacity="0.07"/><circle cx="399.6" cy="596.6" r="7.0" fill-opacity="0.07"/><circle cx="402.0" cy="599.5" r="7.0" fill-opacity="0.07"/><circle cx="400.4" cy="598.9" r="7.0" fill-opacity="0.07"/><circle cx="402.0" cy="597.6" r="7.0" fill-opacity="0.07"/><circle cx="400.0" cy="599.1" r="7.0" fill-opacity="0.07"/><circle cx="399.9" cy="599.8" r="7.0" fill-opacity="0.07"/><circle cx="401.4" cy="598.8" r="7.0" fill-opacity="0.07"/><circle cx="401.5" cy="596.9" r="7.0" fill-opacity="0.07"/><circle cx="403.0" cy="596.2" r="7.0" fill-opacity="0.07"/><circle cx="402.7" cy="595.6" r="7.0" fill-opacity="0.07"/><circle cx="403.3" cy="596.5" r="7.0" fill-opacity="0.07"/><circle cx="403.6" cy="596.6" r="7.0" fill-opacity="0.07"/><circle cx="401.6" cy="597.2" r="7.0" fill-opacity="0.07"/><circle cx="405.5" cy="597.4" r="7.0" fill-opacity="0.07"/><circle cx="402.7" cy="595.1" r="7.0" fill-opacity="0.07"/><circle cx="405.0" cy="596.4" r="7.0" fill-opacity="0.07"/><circle cx="405.3" cy="595.3" r="7.0" fill-opacity="0.07"/><circle cx="408.2" cy="596.1" r="7.0" fill-opacity="0.07"/><circle cx="407.2" cy="593.8" r="7.0" fill-opacity="0.07"/><circle cx="407.5" cy="594.7" r="7.0" fill-opacity="0.07"/><circle cx="407.2" cy="596.3" r="7.0" fill-opacity="0.07"/><circle cx="407.9" cy="593.8" r="7.0" fill-opacity="0.07"/><circle cx="410.1" cy="594.2" r="7.0" fill-opacity="0.07"/><circle cx="410.2" cy="594.7" r="7.0" fill-opacity="0.07"/><circle cx="408.7" cy="591.8" r="7.0" fill-opacity="0.07"/><circle cx="409.6" cy="594.5" r="7.0" fill-opacity="0.07"/><circle cx="409.0" cy="593.4" r="7.0" fill-opacity="0.07"/><circle cx="411.0" cy="594.1" r="7.0" fill-opacity="0.07"/><circle cx="411.5" cy="592.9" r="7.0" fill-opacity="0.07"/><circle cx="410.7" cy="593.3" r="7.0" fill-opacity="0.07"/><circle cx="410.7" cy="591.6" r="7.0" fill-opacity="0.07"/><circle cx="412.0" cy="591.7" r="7.0" fill-opacity="0.07"/><circle cx="411.2" cy="593.3" r="7.0" fill-opacity="0.07"/><circle cx="411.4" cy="592.1" r="7.0" fill-opacity="0.07"/><circle cx="410.3" cy="591.8" r="7.0" fill-opacity="0.07"/><circle cx="410.3" cy="590.3" r="7.0" fill-opacity="0.07"/><circle cx="411.9" cy="593.8" r="7.0" fill-opacity="0.07"/><circle cx="412.1" cy="590.9" r="7.0" fill-opacity="0.07"/><circle cx="413.0" cy="589.7" r="7.0" fill-opacity="0.07"/><circle cx="412.0" cy="588.5" r="7.0" fill-opacity="0.07"/><circle cx="412.7" cy="589.4" r="7.0" fill-opacity="0.07"/><circle cx="413.5" cy="589.7" r="7.0" fill-opacity="0.07"/><circle cx="411.1" cy="588.2" r="7.0" fill-opacity="0.07"/><circle cx="413.3" cy="590.6" r="7.0" fill-opacity="0.07"/><circle cx="414.4" cy="589.5" r="7.0" fill-opacity="0.07"/><circle cx="410.8" cy="587.1" r="7.0" fill-opacity="0.07"/><circle cx="413.7" cy="588.8" r="7.0" fill-opacity="0.07"/><circle cx="414.4" cy="589.4" r="7.0" fill-opacity="0.07"/><circle cx="414.0" cy="587.3" r="7.0" fill-opacity="0.07"/><circle cx="414.6" cy="588.9" r="7.0" fill-opacity="0.07"/><circle cx="415.5" cy="588.1" r="7.0" fill-opacity="0.07"/><circle cx="417.4" cy="586.7" r="7.0" fill-opacity="0.07"/><circle cx="415.6" cy="586.8" r="7.0" fill-opacity="0.07"/><circle cx="416.6" cy="588.4" r="7.0" fill-opacity="0.07"/><circle cx="417.2" cy="587.1" r="7.0" fill-opacity="0.07"/><circle cx="417.6" cy="587.2" r="7.0" fill-opacity="0.07"/><circle cx="413.8" cy="584.9" r="7.0" fill-opacity="0.07"/><circle cx="420.5" cy="586.6" r="7.0" fill-opacity="0.07"/><circle cx="417.1" cy="585.1" r="7.0" fill-opacity="0.07"/><circle cx="418.7" cy="588.7" r="7.0" fill-opacity="0.07"/><circle cx="416.6" cy="587.8" r="7.0" fill-opacity="0.07"/><circle cx="420.5" cy="585.7" r="7.0" fill-opacity="0.07"/><circle cx="420.7" cy="585.2" r="7.0" fill-opacity="0.07"/><circle cx="421.8" cy="583.0" r="7.0" fill-opacity="0.07"/><circle cx="420.1" cy="586.5" r="7.0" fill-opacity="0.07"/><circle cx="422.6" cy="584.1" r="7.0" fill-opacity="0.07"/><circle cx="422.4" cy="583.6" r="7.0" fill-opacity="0.07"/><circle cx="422.4" cy="586.6" r="7.0" fill-opacity="0.07"/><circle cx="425.2" cy="584.7" r="7.0" fill-opacity="0.07"/><circle cx="421.9" cy="583.0" r="7.0" fill-opacity="0.07"/><circle cx="422.4" cy="584.1" r="7.0" fill-opacity="0.07"/><circle cx="424.7" cy="583.5" r="7.0" fill-opacity="0.07"/><circle cx="423.2" cy="584.1" r="7.0" fill-opacity="0.07"/><circle cx="424.6" cy="582.8" r="7.0" fill-opacity="0.07"/><circle cx="424.7" cy="582.2" r="7.0" fill-opacity="0.07"/><circle cx="425.7" cy="581.9" r="7.0" fill-opacity="0.07"/><circle cx="425.1" cy="581.0" r="7.0" fill-opacity="0.07"/><circle cx="426.0" cy="581.2" r="7.0" fill-opacity="0.07"/><circle cx="424.8" cy="583.0" r="7.0" fill-opacity="0.07"/><circle cx="426.8" cy="582.0" r="7.0" fill-opacity="0.07"/><circle cx="426.4" cy="580.7" r="7.0" fill-opacity="0.07"/><circle cx="427.0" cy="580.3" r="7.0" fill-opacity="0.07"/><circle cx="425.5" cy="578.6" r="7.0" fill-opacity="0.07"/><circle cx="427.6" cy="577.2" r="7.0" fill-opacity="0.07"/><circle cx="428.0" cy="580.4" r="7.0" fill-opacity="0.07"/><circle cx="428.7" cy="579.6" r="7.0" fill-opacity="0.07"/><circle cx="429.8" cy="579.8" r="7.0" fill-opacity="0.07"/><circle cx="431.0" cy="581.4" r="7.0" fill-opacity="0.07"/><circle cx="428.3" cy="579.2" r="7.0" fill-opacity="0.07"/><circle cx="428.5" cy="577.8" r="7.0" fill-opacity="0.07"/><circle cx="430.8" cy="579.1" r="7.0" fill-opacity="0.07"/><circle cx="428.7" cy="577.3" r="7.0" fill-opacity="0.07"/><circle cx="431.1" cy="577.4" r="7.0" fill-opacity="0.07"/><circle cx="432.8" cy="576.8" r="7.0" fill-opacity="0.07"/><circle cx="430.7" cy="576.3" r="7.0" fill-opacity="0.07"/><circle cx="431.2" cy="576.2" r="7.0" fill-opacity="0.07"/><circle cx="430.5" cy="577.1" r="7.0" fill-opacity="0.07"/><circle cx="431.7" cy="575.9" r="7.0" fill-opacity="0.07"/><circle cx="433.3" cy="577.7" r="7.0" fill-opacity="0.07"/><circle cx="434.1" cy="575.9" r="7.0" fill-opacity="0.07"/><circle cx="432.0" cy="574.6" r="7.0" fill-opacity="0.07"/><circle cx="433.7" cy="575.4" r="7.0" fill-opacity="0.07"/><circle cx="433.8" cy="574.8" r="7.0" fill-opacity="0.07"/><circle cx="435.7" cy="574.2" r="7.0" fill-opacity="0.07"/><circle cx="434.0" cy="574.5" r="7.0" fill-opacity="0.07"/><circle cx="435.2" cy="574.7" r="7.0" fill-opacity="0.07"/><circle cx="435.0" cy="574.4" r="7.0" fill-opacity="0.07"/><circle cx="437.1" cy="573.3" r="7.0" fill-opacity="0.07"/><circle cx="435.7" cy="573.4" r="7.0" fill-opacity="0.07"/><circle cx="437.8" cy="573.7" r="7.0" fill-opacity="0.07"/><circle cx="438.3" cy="572.5" r="7.0" fill-opacity="0.07"/><circle cx="438.2" cy="575.1" r="7.0" fill-opacity="0.07"/><circle cx="439.0" cy="573.0" r="7.0" fill-opacity="0.07"/><circle cx="438.3" cy="571.3" r="7.0" fill-opacity="0.07"/><circle cx="439.1" cy="572.8" r="7.0" fill-opacity="0.07"/><circle cx="440.3" cy="571.7" r="7.0" fill-opacity="0.07"/><circle cx="437.3" cy="573.4" r="7.0" fill-opacity="0.07"/><circle cx="441.3" cy="573.0" r="7.0" fill-opacity="0.07"/><circle cx="442.7" cy="573.8" r="7.0" fill-opacity="0.07"/><circle cx="442.6" cy="572.2" r="7.0" fill-opacity="0.07"/><circle cx="440.7" cy="569.4" r="7.0" fill-opacity="0.07"/><circle cx="442.2" cy="571.3" r="7.0" fill-opacity="0.07"/><circle cx="441.5" cy="571.8" r="7.0" fill-opacity="0.07"/><circle cx="441.7" cy="570.1" r="7.0" fill-opacity="0.07"/><circle cx="441.7" cy="570.4" r="7.0" fill-opacity="0.07"/><circle cx="442.1" cy="569.8" r="7.0" fill-opacity="0.07"/><circle cx="441.6" cy="567.9" r="7.0" fill-opacity="0.07"/><circle cx="441.4" cy="568.3" r="7.0" fill-opacity="0.07"/><circle cx="443.0" cy="570.5" r="7.0" fill-opacity="0.07"/><circle cx="443.2" cy="569.4" r="7.0" fill-opacity="0.07"/><circle cx="444.6" cy="570.9" r="7.0" fill-opacity="0.07"/><circle cx="443.5" cy="570.5" r="7.0" fill-opacity="0.07"/><circle cx="442.6" cy="569.0" r="7.0" fill-opacity="0.07"/><circle cx="443.8" cy="567.6" r="7.0" fill-opacity="0.07"/><circle cx="445.1" cy="569.0" r="7.0" fill-opacity="0.07"/><circle cx="443.8" cy="568.5" r="7.0" fill-opacity="0.07"/><circle cx="443.4" cy="565.9" r="7.0" fill-opacity="0.07"/><circle cx="444.5" cy="566.7" r="7.0" fill-opacity="0.07"/><circle cx="446.0" cy="565.5" r="7.0" fill-opacity="0.07"/><circle cx="446.8" cy="565.4" r="7.0" fill-opacity="0.07"/><circle cx="448.0" cy="566.0" r="7.0" fill-opacity="0.07"/><circle cx="447.2" cy="566.8" r="7.0" fill-opacity="0.07"/><circle cx="448.4" cy="566.8" r="7.0" fill-opacity="0.07"/><circle cx="448.3" cy="564.1" r="7.0" fill-opacity="0.07"/><circle cx="444.3" cy="563.0" r="7.0" fill-opacity="0.07"/><circle cx="447.8" cy="565.7" r="7.0" fill-opacity="0.07"/><circle cx="448.5" cy="564.1" r="7.0" fill-opacity="0.07"/><circle cx="447.7" cy="563.4" r="7.0" fill-opacity="0.07"/><circle cx="448.9" cy="564.0" r="7.0" fill-opacity="0.07"/><circle cx="448.1" cy="564.9" r="7.0" fill-opacity="0.07"/><circle cx="448.4" cy="563.4" r="7.0" fill-opacity="0.07"/><circle cx="449.7" cy="562.2" r="7.0" fill-opacity="0.07"/><circle cx="449.3" cy="561.3" r="7.0" fill-opacity="0.07"/><circle cx="450.8" cy="560.5" r="7.0" fill-opacity="0.07"/><circle cx="454.5" cy="559.2" r="7.0" fill-opacity="0.07"/><circle cx="451.9" cy="560.8" r="7.0" fill-opacity="0.07"/><circle cx="450.8" cy="558.8" r="7.0" fill-opacity="0.07"/><circle cx="453.9" cy="561.0" r="7.0" fill-opacity="0.07"/><circle cx="453.1" cy="561.3" r="7.0" fill-opacity="0.07"/><circle cx="453.8" cy="560.9" r="7.0" fill-opacity="0.07"/><circle cx="456.0" cy="560.4" r="7.0" fill-opacity="0.07"/><circle cx="455.7" cy="559.0" r="7.0" fill-opacity="0.07"/><circle cx="456.6" cy="558.9" r="7.0" fill-opacity="0.07"/><circle cx="457.4" cy="560.3" r="7.0" fill-opacity="0.07"/><circle cx="455.9" cy="558.4" r="7.0" fill-opacity="0.07"/><circle cx="457.1" cy="558.0" r="7.0" fill-opacity="0.07"/><circle cx="456.4" cy="558.6" r="7.0" fill-opacity="0.07"/><circle cx="458.7" cy="558.6" r="7.0" fill-opacity="0.07"/><circle cx="457.3" cy="561.0" r="7.0" fill-opacity="0.07"/><circle cx="461.7" cy="559.9" r="7.0" fill-opacity="0.07"/><circle cx="458.8" cy="559.2" r="7.0" fill-opacity="0.07"/><circle cx="460.6" cy="559.4" r="7.0" fill-opacity="0.07"/><circle cx="459.2" cy="557.4" r="7.0" fill-opacity="0.07"/><circle cx="461.2" cy="558.7" r="7.0" fill-opacity="0.07"/><circle cx="459.3" cy="558.5" r="7.0" fill-opacity="0.07"/><circle cx="461.1" cy="558.0" r="7.0" fill-opacity="0.07"/><circle cx="462.2" cy="558.6" r="7.0" fill-opacity="0.07"/><circle cx="461.9" cy="557.4" r="7.0" fill-opacity="0.07"/><circle cx="461.2" cy="558.9" r="7.0" fill-opacity="0.07"/><circle cx="464.6" cy="558.9" r="7.0" fill-opacity="0.07"/><circle cx="462.5" cy="557.2" r="7.0" fill-opacity="0.07"/><circle cx="465.0" cy="557.9" r="7.0" fill-opacity="0.07"/><circle cx="463.9" cy="557.4" r="7.0" fill-opacity="0.07"/><circle cx="463.3" cy="557.6" r="7.0" fill-opacity="0.07"/><circle cx="463.1" cy="556.6" r="7.0" fill-opacity="0.07"/><circle cx="463.8" cy="555.6" r="7.0" fill-opacity="0.07"/><circle cx="462.2" cy="556.0" r="7.0" fill-opacity="0.07"/><circle cx="465.1" cy="555.3" r="7.0" fill-opacity="0.07"/><circle cx="465.2" cy="555.9" r="7.0" fill-opacity="0.07"/><circle cx="466.8" cy="555.5" r="7.0" fill-opacity="0.07"/><circle cx="465.3" cy="555.1" r="7.0" fill-opacity="0.07"/><circle cx="465.5" cy="553.5" r="7.0" fill-opacity="0.07"/><circle cx="465.3" cy="554.7" r="7.0" fill-opacity="0.07"/><circle cx="467.7" cy="556.4" r="7.0" fill-opacity="0.07"/><circle cx="467.2" cy="553.1" r="7.0" fill-opacity="0.07"/><circle cx="468.7" cy="555.2" r="7.0" fill-opacity="0.07"/><circle cx="467.3" cy="553.0" r="7.0" fill-opacity="0.07"/><circle cx="467.8" cy="552.7" r="7.0" fill-opacity="0.07"/><circle cx="469.6" cy="553.3" r="7.0" fill-opacity="0.07"/><circle cx="468.1" cy="552.5" r="7.0" fill-opacity="0.07"/><circle cx="470.8" cy="550.2" r="7.0" fill-opacity="0.07"/><circle cx="469.4" cy="550.4" r="7.0" fill-opacity="0.07"/><circle cx="468.2" cy="552.3" r="7.0" fill-opacity="0.07"/><circle cx="471.5" cy="549.7" r="7.0" fill-opacity="0.07"/><circle cx="469.8" cy="551.8" r="7.0" fill-opacity="0.07"/><circle cx="472.3" cy="551.4" r="7.0" fill-opacity="0.07"/><circle cx="472.5" cy="549.5" r="7.0" fill-opacity="0.07"/><circle cx="471.4" cy="547.9" r="7.0" fill-opacity="0.07"/><circle cx="473.7" cy="549.5" r="7.0" fill-opacity="0.07"/><circle cx="474.6" cy="550.3" r="7.0" fill-opacity="0.07"/><circle cx="473.0" cy="549.5" r="7.0" fill-opacity="0.07"/><circle cx="471.7" cy="547.5" r="7.0" fill-opacity="0.07"/><circle cx="474.1" cy="549.4" r="7.0" fill-opacity="0.07"/><circle cx="474.0" cy="550.3" r="7.0" fill-opacity="0.07"/><circle cx="475.2" cy="549.3" r="7.0" fill-opacity="0.07"/><circle cx="473.4" cy="547.1" r="7.0" fill-opacity="0.07"/><circle cx="476.6" cy="548.8" r="7.0" fill-opacity="0.07"/><circle cx="475.6" cy="547.9" r="7.0" fill-opacity="0.07"/><circle cx="476.0" cy="548.1" r="7.0" fill-opacity="0.07"/><circle cx="475.0" cy="546.1" r="7.0" fill-opacity="0.07"/><circle cx="476.9" cy="545.8" r="7.0" fill-opacity="0.07"/><circle cx="477.1" cy="547.4" r="7.0" fill-opacity="0.07"/><circle cx="477.2" cy="545.5" r="7.0" fill-opacity="0.07"/><circle cx="480.0" cy="547.2" r="7.0" fill-opacity="0.07"/><circle cx="480.4" cy="547.8" r="7.0" fill-opacity="0.07"/><circle cx="476.6" cy="543.7" r="7.0" fill-opacity="0.07"/><circle cx="481.0" cy="547.6" r="7.0" fill-opacity="0.07"/><circle cx="481.1" cy="544.8" r="7.0" fill-opacity="0.07"/><circle cx="480.9" cy="546.1" r="7.0" fill-opacity="0.07"/><circle cx="479.1" cy="545.8" r="7.0" fill-opacity="0.07"/><circle cx="482.3" cy="547.0" r="7.0" fill-opacity="0.07"/><circle cx="482.8" cy="546.5" r="7.0" fill-opacity="0.07"/><circle cx="481.6" cy="542.2" r="7.0" fill-opacity="0.07"/><circle cx="484.7" cy="540.9" r="7.0" fill-opacity="0.07"/><circle cx="485.6" cy="544.2" r="7.0" fill-opacity="0.07"/><circle cx="482.7" cy="541.6" r="7.0" fill-opacity="0.07"/><circle cx="485.5" cy="541.4" r="7.0" fill-opacity="0.07"/><circle cx="483.0" cy="541.3" r="7.0" fill-opacity="0.07"/><circle cx="485.6" cy="542.5" r="7.0" fill-opacity="0.07"/><circle cx="485.9" cy="541.7" r="7.0" fill-opacity="0.07"/><circle cx="488.2" cy="540.8" r="7.0" fill-opacity="0.07"/><circle cx="488.3" cy="540.6" r="7.0" fill-opacity="0.07"/><circle cx="486.2" cy="542.1" r="7.0" fill-opacity="0.07"/><circle cx="487.0" cy="539.3" r="7.0" fill-opacity="0.07"/><circle cx="485.2" cy="538.4" r="7.0" fill-opacity="0.07"/><circle cx="486.6" cy="539.7" r="7.0" fill-opacity="0.07"/><circle cx="486.3" cy="538.7" r="7.0" fill-opacity="0.07"/><circle cx="488.1" cy="539.7" r="7.0" fill-opacity="0.07"/><circle cx="488.0" cy="538.5" r="7.0" fill-opacity="0.07"/><circle cx="489.3" cy="537.2" r="7.0" fill-opacity="0.07"/><circle cx="488.6" cy="536.7" r="7.0" fill-opacity="0.07"/><circle cx="489.5" cy="537.8" r="7.0" fill-opacity="0.07"/><circle cx="489.3" cy="537.1" r="7.0" fill-opacity="0.07"/><circle cx="488.9" cy="537.8" r="7.0" fill-opacity="0.07"/><circle cx="490.6" cy="538.6" r="7.0" fill-opacity="0.07"/><circle cx="490.2" cy="535.5" r="7.0" fill-opacity="0.07"/><circle cx="490.8" cy="536.2" r="7.0" fill-opacity="0.07"/><circle cx="491.0" cy="536.2" r="7.0" fill-opacity="0.07"/><circle cx="491.1" cy="538.6" r="7.0" fill-opacity="0.07"/><circle cx="491.1" cy="535.1" r="7.0" fill-opacity="0.07"/><circle cx="490.3" cy="537.0" r="7.0" fill-opacity="0.07"/><circle cx="491.3" cy="536.6" r="7.0" fill-opacity="0.07"/><circle cx="494.3" cy="537.3" r="7.0" fill-opacity="0.07"/><circle cx="493.9" cy="537.6" r="7.0" fill-opacity="0.07"/><circle cx="494.0" cy="534.8" r="7.0" fill-opacity="0.07"/><circle cx="493.2" cy="537.6" r="7.0" fill-opacity="0.07"/><circle cx="496.5" cy="537.6" r="7.0" fill-opacity="0.07"/><circle cx="496.4" cy="535.4" r="7.0" fill-opacity="0.07"/><circle cx="495.7" cy="533.3" r="7.0" fill-opacity="0.07"/><circle cx="495.5" cy="534.8" r="7.0" fill-opacity="0.07"/><circle cx="497.9" cy="534.4" r="7.0" fill-opacity="0.07"/><circle cx="494.9" cy="538.1" r="7.0" fill-opacity="0.07"/><circle cx="496.8" cy="535.9" r="7.0" fill-opacity="0.07"/><circle cx="497.2" cy="534.9" r="7.0" fill-opacity="0.07"/><circle cx="498.7" cy="533.8" r="7.0" fill-opacity="0.07"/><circle cx="498.7" cy="535.8" r="7.0" fill-opacity="0.07"/><circle cx="499.4" cy="533.1" r="7.0" fill-opacity="0.07"/><circle cx="499.8" cy="532.0" r="7.0" fill-opacity="0.07"/><circle cx="502.1" cy="531.6" r="7.0" fill-opacity="0.07"/><circle cx="501.2" cy="532.4" r="7.0" fill-opacity="0.07"/><circle cx="499.3" cy="531.3" r="7.0" fill-opacity="0.07"/><circle cx="501.9" cy="531.6" r="7.0" fill-opacity="0.07"/><circle cx="503.5" cy="530.5" r="7.0" fill-opacity="0.07"/><circle cx="501.7" cy="531.8" r="7.0" fill-opacity="0.07"/><circle cx="504.1" cy="530.5" r="7.0" fill-opacity="0.07"/><circle cx="502.3" cy="528.2" r="7.0" fill-opacity="0.07"/><circle cx="503.7" cy="527.7" r="7.0" fill-opacity="0.07"/><circle cx="502.8" cy="526.9" r="7.0" fill-opacity="0.07"/><circle cx="503.9" cy="527.1" r="7.0" fill-opacity="0.07"/><circle cx="506.4" cy="528.9" r="7.0" fill-opacity="0.07"/><circle cx="504.4" cy="525.6" r="7.0" fill-opacity="0.07"/><circle cx="503.2" cy="526.9" r="7.0" fill-opacity="0.07"/><circle cx="505.7" cy="526.6" r="7.0" fill-opacity="0.07"/><circle cx="505.5" cy="526.5" r="7.0" fill-opacity="0.07"/><circle cx="506.4" cy="526.2" r="7.0" fill-opacity="0.07"/><circle cx="506.9" cy="524.4" r="7.0" fill-opacity="0.07"/><circle cx="504.5" cy="523.4" r="7.0" fill-opacity="0.07"/><circle cx="504.6" cy="525.1" r="7.0" fill-opacity="0.07"/><circle cx="505.8" cy="525.5" r="7.0" fill-opacity="0.07"/><circle cx="507.2" cy="523.1" r="7.0" fill-opacity="0.07"/><circle cx="506.3" cy="523.7" r="7.0" fill-opacity="0.07"/><circle cx="507.0" cy="522.9" r="7.0" fill-opacity="0.07"/><circle cx="508.3" cy="523.2" r="7.0" fill-opacity="0.07"/><circle cx="508.9" cy="523.3" r="7.0" fill-opacity="0.07"/><circle cx="508.5" cy="522.7" r="7.0" fill-opacity="0.07"/><circle cx="510.1" cy="520.9" r="7.0" fill-opacity="0.07"/><circle cx="509.8" cy="521.4" r="7.0" fill-opacity="0.07"/><circle cx="508.8" cy="521.5" r="7.0" fill-opacity="0.07"/><circle cx="509.4" cy="521.9" r="7.0" fill-opacity="0.07"/><circle cx="509.6" cy="521.1" r="7.0" fill-opacity="0.07"/><circle cx="511.8" cy="519.7" r="7.0" fill-opacity="0.07"/><circle cx="512.6" cy="519.9" r="7.0" fill-opacity="0.07"/><circle cx="512.1" cy="519.0" r="7.0" fill-opacity="0.07"/><circle cx="514.7" cy="522.2" r="7.0" fill-opacity="0.07"/><circle cx="514.3" cy="519.9" r="7.0" fill-opacity="0.07"/><circle cx="514.2" cy="520.0" r="7.0" fill-opacity="0.07"/><circle cx="512.1" cy="519.1" r="7.0" fill-opacity="0.07"/><circle cx="515.2" cy="519.2" r="7.0" fill-opacity="0.07"/><circle cx="514.1" cy="518.6" r="7.0" fill-opacity="0.07"/><circle cx="514.6" cy="518.3" r="7.0" fill-opacity="0.07"/><circle cx="513.3" cy="517.5" r="7.0" fill-opacity="0.07"/><circle cx="514.2" cy="516.2" r="7.0" fill-opacity="0.07"/><circle cx="514.9" cy="517.5" r="7.0" fill-opacity="0.07"/><circle cx="515.9" cy="518.1" r="7.0" fill-opacity="0.07"/><circle cx="516.4" cy="517.1" r="7.0" fill-opacity="0.07"/><circle cx="515.8" cy="516.6" r="7.0" fill-opacity="0.07"/><circle cx="518.1" cy="516.4" r="7.0" fill-opacity="0.07"/><circle cx="517.7" cy="516.8" r="7.0" fill-opacity="0.07"/><circle cx="518.2" cy="515.9" r="7.0" fill-opacity="0.07"/><circle cx="519.0" cy="514.2" r="7.0" fill-opacity="0.07"/><circle cx="519.2" cy="515.4" r="7.0" fill-opacity="0.07"/><circle cx="517.6" cy="514.1" r="7.0" fill-opacity="0.07"/><circle cx="519.7" cy="514.5" r="7.0" fill-opacity="0.07"/><circle cx="519.3" cy="514.4" r="7.0" fill-opacity="0.07"/><circle cx="518.6" cy="513.3" r="7.0" fill-opacity="0.07"/><circle cx="518.2" cy="512.0" r="7.0" fill-opacity="0.07"/><circle cx="518.5" cy="512.2" r="7.0" fill-opacity="0.07"/><circle cx="520.5" cy="514.0" r="7.0" fill-opacity="0.07"/><circle cx="519.7" cy="512.6" r="7.0" fill-opacity="0.07"/><circle cx="520.6" cy="511.9" r="7.0" fill-opacity="0.07"/><circle cx="520.2" cy="512.1" r="7.0" fill-opacity="0.07"/><circle cx="522.7" cy="511.2" r="7.0" fill-opacity="0.07"/><circle cx="520.5" cy="510.0" r="7.0" fill-opacity="0.07"/><circle cx="520.8" cy="509.5" r="7.0" fill-opacity="0.07"/><circle cx="521.1" cy="509.3" r="7.0" fill-opacity="0.07"/><circle cx="522.0" cy="507.3" r="7.0" fill-opacity="0.07"/><circle cx="524.1" cy="509.5" r="7.0" fill-opacity="0.07"/><circle cx="521.2" cy="510.7" r="7.0" fill-opacity="0.07"/><circle cx="525.4" cy="508.7" r="7.0" fill-opacity="0.07"/><circle cx="521.8" cy="509.6" r="7.0" fill-opacity="0.07"/><circle cx="522.1" cy="508.3" r="7.0" fill-opacity="0.07"/><circle cx="525.7" cy="509.7" r="7.0" fill-opacity="0.07"/><circle cx="525.1" cy="506.7" r="7.0" fill-opacity="0.07"/><circle cx="526.1" cy="507.4" r="7.0" fill-opacity="0.07"/><circle cx="526.1" cy="504.6" r="7.0" fill-opacity="0.07"/><circle cx="527.2" cy="503.3" r="7.0" fill-opacity="0.07"/><circle cx="527.7" cy="505.8" r="7.0" fill-opacity="0.07"/><circle cx="529.2" cy="502.9" r="7.0" fill-opacity="0.07"/><circle cx="530.1" cy="505.1" r="7.0" fill-opacity="0.07"/><circle cx="530.6" cy="504.3" r="7.0" fill-opacity="0.07"/><circle cx="530.6" cy="502.9" r="7.0" fill-opacity="0.07"/><circle cx="531.3" cy="503.5" r="7.0" fill-opacity="0.07"/><circle cx="531.8" cy="504.2" r="7.0" fill-opacity="0.07"/><circle cx="528.5" cy="503.2" r="7.0" fill-opacity="0.07"/><circle cx="532.4" cy="501.5" r="7.0" fill-opacity="0.07"/><circle cx="531.2" cy="502.7" r="7.0" fill-opacity="0.07"/><circle cx="531.8" cy="500.3" r="7.0" fill-opacity="0.07"/><circle cx="532.3" cy="500.6" r="7.0" fill-opacity="0.07"/><circle cx="532.0" cy="500.9" r="7.0" fill-opacity="0.07"/><circle cx="532.1" cy="498.9" r="7.0" fill-opacity="0.07"/><circle cx="533.0" cy="501.1" r="7.0" fill-opacity="0.07"/><circle cx="530.6" cy="499.4" r="7.0" fill-opacity="0.07"/><circle cx="533.5" cy="499.3" r="7.0" fill-opacity="0.07"/><circle cx="533.4" cy="499.6" r="7.0" fill-opacity="0.07"/><circle cx="535.5" cy="502.2" r="7.0" fill-opacity="0.07"/><circle cx="532.7" cy="499.0" r="7.0" fill-opacity="0.07"/><circle cx="532.7" cy="498.9" r="7.0" fill-opacity="0.07"/><circle cx="535.2" cy="497.0" r="7.0" fill-opacity="0.07"/><circle cx="534.4" cy="496.8" r="7.0" fill-opacity="0.07"/><circle cx="536.0" cy="496.2" r="7.0" fill-opacity="0.07"/><circle cx="534.6" cy="498.5" r="7.0" fill-opacity="0.07"/><circle cx="535.3" cy="497.3" r="7.0" fill-opacity="0.07"/><circle cx="535.6" cy="496.3" r="7.0" fill-opacity="0.07"/><circle cx="534.8" cy="494.9" r="7.0" fill-opacity="0.07"/><circle cx="535.5" cy="497.3" r="7.0" fill-opacity="0.07"/><circle cx="536.1" cy="495.3" r="7.0" fill-opacity="0.07"/><circle cx="534.0" cy="493.1" r="7.0" fill-opacity="0.07"/><circle cx="536.7" cy="496.3" r="7.0" fill-opacity="0.07"/><circle cx="535.8" cy="493.9" r="7.0" fill-opacity="0.07"/><circle cx="535.4" cy="493.9" r="7.0" fill-opacity="0.07"/><circle cx="536.8" cy="492.9" r="7.0" fill-opacity="0.07"/><circle cx="537.1" cy="491.8" r="7.0" fill-opacity="0.07"/><circle cx="537.6" cy="492.4" r="7.0" fill-opacity="0.07"/><circle cx="538.5" cy="491.1" r="7.0" fill-opacity="0.07"/><circle cx="540.4" cy="489.9" r="7.0" fill-opacity="0.07"/><circle cx="538.8" cy="490.0" r="7.0" fill-opacity="0.07"/><circle cx="539.6" cy="488.6" r="7.0" fill-opacity="0.07"/><circle cx="538.0" cy="490.4" r="7.0" fill-opacity="0.07"/><circle cx="540.0" cy="488.1" r="7.0" fill-opacity="0.07"/><circle cx="542.0" cy="488.3" r="7.0" fill-opacity="0.07"/><circle cx="540.1" cy="490.0" r="7.0" fill-opacity="0.07"/><circle cx="542.5" cy="486.6" r="7.0" fill-opacity="0.07"/><circle cx="541.8" cy="489.9" r="7.0" fill-opacity="0.07"/><circle cx="544.7" cy="488.2" r="7.0" fill-opacity="0.07"/><circle cx="543.2" cy="488.4" r="7.0" fill-opacity="0.07"/><circle cx="545.0" cy="488.6" r="7.0" fill-opacity="0.07"/><circle cx="545.6" cy="485.9" r="7.0" fill-opacity="0.07"/><circle cx="545.2" cy="486.1" r="7.0" fill-opacity="0.07"/><circle cx="544.7" cy="485.8" r="7.0" fill-opacity="0.07"/><circle cx="545.2" cy="487.7" r="7.0" fill-opacity="0.07"/><circle cx="545.9" cy="488.0" r="7.0" fill-opacity="0.07"/><circle cx="545.9" cy="486.8" r="7.0" fill-opacity="0.07"/><circle cx="546.4" cy="485.9" r="7.0" fill-opacity="0.07"/><circle cx="548.1" cy="486.8" r="7.0" fill-opacity="0.07"/><circle cx="549.1" cy="482.4" r="7.0" fill-opacity="0.07"/><circle cx="548.1" cy="485.0" r="7.0" fill-opacity="0.07"/><circle cx="547.9" cy="486.1" r="7.0" fill-opacity="0.07"/><circle cx="548.1" cy="485.4" r="7.0" fill-opacity="0.07"/><circle cx="548.8" cy="481.7" r="7.0" fill-opacity="0.07"/><circle cx="550.3" cy="484.5" r="7.0" fill-opacity="0.07"/><circle cx="549.7" cy="485.1" r="7.0" fill-opacity="0.07"/><circle cx="550.7" cy="482.8" r="7.0" fill-opacity="0.07"/><circle cx="551.3" cy="480.8" r="7.0" fill-opacity="0.07"/><circle cx="552.0" cy="481.8" r="7.0" fill-opacity="0.07"/><circle cx="550.9" cy="482.6" r="7.0" fill-opacity="0.07"/><circle cx="552.8" cy="482.5" r="7.0" fill-opacity="0.07"/><circle cx="551.4" cy="481.8" r="7.0" fill-opacity="0.07"/><circle cx="554.2" cy="482.2" r="7.0" fill-opacity="0.07"/><circle cx="553.6" cy="481.6" r="7.0" fill-opacity="0.07"/><circle cx="552.9" cy="480.8" r="7.0" fill-opacity="0.07"/><circle cx="554.8" cy="479.2" r="7.0" fill-opacity="0.07"/><circle cx="552.9" cy="476.8" r="7.0" fill-opacity="0.07"/><circle cx="555.1" cy="480.1" r="7.0" fill-opacity="0.07"/><circle cx="555.3" cy="476.4" r="7.0" fill-opacity="0.07"/><circle cx="556.3" cy="475.7" r="7.0" fill-opacity="0.07"/><circle cx="554.9" cy="476.0" r="7.0" fill-opacity="0.07"/><circle cx="559.2" cy="477.5" r="7.0" fill-opacity="0.07"/><circle cx="556.6" cy="476.9" r="7.0" fill-opacity="0.07"/><circle cx="559.8" cy="477.2" r="7.0" fill-opacity="0.07"/><circle cx="556.1" cy="477.1" r="7.0" fill-opacity="0.07"/><circle cx="557.4" cy="473.4" r="7.0" fill-opacity="0.07"/><circle cx="558.9" cy="474.9" r="7.0" fill-opacity="0.07"/><circle cx="558.8" cy="473.7" r="7.0" fill-opacity="0.07"/><circle cx="558.8" cy="473.7" r="7.0" fill-opacity="0.07"/><circle cx="559.9" cy="474.1" r="7.0" fill-opacity="0.07"/><circle cx="558.2" cy="473.0" r="7.0" fill-opacity="0.07"/><circle cx="562.1" cy="473.8" r="7.0" fill-opacity="0.07"/><circle cx="560.3" cy="472.5" r="7.0" fill-opacity="0.07"/><circle cx="561.8" cy="475.1" r="7.0" fill-opacity="0.07"/><circle cx="560.6" cy="471.9" r="7.0" fill-opacity="0.07"/><circle cx="561.3" cy="472.9" r="7.0" fill-opacity="0.07"/><circle cx="560.5" cy="471.9" r="7.0" fill-opacity="0.07"/><circle cx="563.1" cy="471.9" r="7.0" fill-opacity="0.07"/><circle cx="560.5" cy="470.9" r="7.0" fill-opacity="0.07"/><circle cx="562.0" cy="472.2" r="7.0" fill-opacity="0.07"/><circle cx="563.0" cy="470.4" r="7.0" fill-opacity="0.07"/><circle cx="564.0" cy="470.3" r="7.0" fill-opacity="0.07"/><circle cx="560.3" cy="469.1" r="7.0" fill-opacity="0.07"/><circle cx="561.6" cy="470.2" r="7.0" fill-opacity="0.07"/><circle cx="564.4" cy="470.4" r="7.0" fill-opacity="0.07"/><circle cx="565.7" cy="468.4" r="7.0" fill-opacity="0.07"/><circle cx="566.4" cy="472.1" r="7.0" fill-opacity="0.07"/><circle cx="565.4" cy="468.2" r="7.0" fill-opacity="0.07"/><circle cx="564.4" cy="467.3" r="7.0" fill-opacity="0.07"/><circle cx="567.2" cy="467.2" r="7.0" fill-opacity="0.07"/><circle cx="569.2" cy="466.2" r="7.0" fill-opacity="0.07"/><circle cx="569.1" cy="466.4" r="7.0" fill-opacity="0.07"/><circle cx="567.0" cy="465.5" r="7.0" fill-opacity="0.07"/><circle cx="566.8" cy="464.0" r="7.0" fill-opacity="0.07"/><circle cx="568.0" cy="464.1" r="7.0" fill-opacity="0.07"/><circle cx="569.4" cy="463.0" r="7.0" fill-opacity="0.07"/><circle cx="567.8" cy="464.8" r="7.0" fill-opacity="0.07"/><circle cx="568.9" cy="459.8" r="7.0" fill-opacity="0.07"/><circle cx="569.4" cy="462.7" r="7.0" fill-opacity="0.07"/><circle cx="568.8" cy="462.2" r="7.0" fill-opacity="0.07"/><circle cx="569.4" cy="460.0" r="7.0" fill-opacity="0.07"/><circle cx="571.5" cy="460.7" r="7.0" fill-opacity="0.07"/><circle cx="570.4" cy="461.3" r="7.0" fill-opacity="0.07"/><circle cx="572.2" cy="458.9" r="7.0" fill-opacity="0.07"/><circle cx="572.9" cy="459.7" r="7.0" fill-opacity="0.07"/><circle cx="573.1" cy="460.2" r="7.0" fill-opacity="0.07"/><circle cx="572.0" cy="457.7" r="7.0" fill-opacity="0.07"/><circle cx="574.2" cy="458.8" r="7.0" fill-opacity="0.07"/><circle cx="573.5" cy="457.0" r="7.0" fill-opacity="0.07"/><circle cx="575.4" cy="458.7" r="7.0" fill-opacity="0.07"/><circle cx="575.4" cy="458.4" r="7.0" fill-opacity="0.07"/><circle cx="575.7" cy="456.3" r="7.0" fill-opacity="0.07"/><circle cx="575.5" cy="456.3" r="7.0" fill-opacity="0.07"/><circle cx="576.5" cy="456.1" r="7.0" fill-opacity="0.07"/><circle cx="575.7" cy="457.0" r="7.0" fill-opacity="0.07"/><circle cx="576.9" cy="457.0" r="7.0" fill-opacity="0.07"/><circle cx="576.9" cy="454.8" r="7.0" fill-opacity="0.07"/><circle cx="577.4" cy="456.9" r="7.0" fill-opacity="0.07"/><circle cx="578.9" cy="455.7" r="7.0" fill-opacity="0.07"/><circle cx="582.3" cy="455.2" r="7.0" fill-opacity="0.07"/><circle cx="579.9" cy="456.3" r="7.0" fill-opacity="0.07"/><circle cx="581.6" cy="454.7" r="7.0" fill-opacity="0.07"/><circle cx="579.0" cy="456.2" r="7.0" fill-opacity="0.07"/><circle cx="582.7" cy="456.8" r="7.0" fill-opacity="0.07"/><circle cx="581.0" cy="457.1" r="7.0" fill-opacity="0.07"/><circle cx="582.7" cy="455.0" r="7.0" fill-opacity="0.07"/><circle cx="582.5" cy="454.0" r="7.0" fill-opacity="0.07"/><circle cx="584.2" cy="452.6" r="7.0" fill-opacity="0.07"/><circle cx="584.5" cy="452.1" r="7.0" fill-opacity="0.07"/><circle cx="583.4" cy="452.5" r="7.0" fill-opacity="0.07"/><circle cx="583.8" cy="452.3" r="7.0" fill-opacity="0.07"/><circle cx="585.1" cy="449.7" r="7.0" fill-opacity="0.07"/><circle cx="583.6" cy="452.3" r="7.0" fill-opacity="0.07"/><circle cx="587.6" cy="451.0" r="7.0" fill-opacity="0.07"/><circle cx="587.7" cy="451.1" r="7.0" fill-opacity="0.07"/><circle cx="585.5" cy="450.7" r="7.0" fill-opacity="0.07"/><circle cx="583.7" cy="450.7" r="7.0" fill-opacity="0.07"/><circle cx="586.1" cy="447.4" r="7.0" fill-opacity="0.07"/><circle cx="584.3" cy="449.0" r="7.0" fill-opacity="0.07"/><circle cx="588.4" cy="449.6" r="7.0" fill-opacity="0.07"/><circle cx="590.8" cy="448.0" r="7.0" fill-opacity="0.07"/><circle cx="584.8" cy="446.7" r="7.0" fill-opacity="0.07"/><circle cx="589.2" cy="448.4" r="7.0" fill-opacity="0.07"/><circle cx="586.7" cy="447.8" r="7.0" fill-opacity="0.07"/><circle cx="588.4" cy="447.0" r="7.0" fill-opacity="0.07"/><circle cx="589.3" cy="446.8" r="7.0" fill-opacity="0.07"/><circle cx="590.2" cy="444.9" r="7.0" fill-opacity="0.07"/><circle cx="592.1" cy="446.3" r="7.0" fill-opacity="0.07"/><circle cx="588.2" cy="444.9" r="7.0" fill-opacity="0.07"/><circle cx="592.6" cy="445.4" r="7.0" fill-opacity="0.07"/><circle cx="592.1" cy="444.6" r="7.0" fill-opacity="0.07"/><circle cx="592.0" cy="444.4" r="7.0" fill-opacity="0.07"/><circle cx="592.1" cy="444.0" r="7.0" fill-opacity="0.07"/><circle cx="593.5" cy="442.1" r="7.0" fill-opacity="0.07"/><circle cx="595.8" cy="441.0" r="7.0" fill-opacity="0.07"/><circle cx="594.5" cy="442.5" r="7.0" fill-opacity="0.07"/><circle cx="594.4" cy="443.2" r="7.0" fill-opacity="0.07"/><circle cx="598.8" cy="437.7" r="7.0" fill-opacity="0.07"/><circle cx="597.1" cy="439.1" r="7.0" fill-opacity="0.07"/><circle cx="597.5" cy="438.0" r="7.0" fill-opacity="0.07"/><circle cx="598.1" cy="437.8" r="7.0" fill-opacity="0.07"/><circle cx="598.1" cy="438.7" r="7.0" fill-opacity="0.07"/><circle cx="597.1" cy="436.5" r="7.0" fill-opacity="0.07"/><circle cx="600.8" cy="435.8" r="7.0" fill-opacity="0.07"/><circle cx="599.4" cy="439.3" r="7.0" fill-opacity="0.07"/><circle cx="600.1" cy="436.9" r="7.0" fill-opacity="0.07"/><circle cx="599.9" cy="435.0" r="7.0" fill-opacity="0.07"/><circle cx="598.5" cy="438.2" r="7.0" fill-opacity="0.07"/><circle cx="602.0" cy="436.2" r="7.0" fill-opacity="0.07"/><circle cx="600.4" cy="435.5" r="7.0" fill-opacity="0.07"/><circle cx="601.4" cy="434.2" r="7.0" fill-opacity="0.07"/><circle cx="601.8" cy="434.8" r="7.0" fill-opacity="0.07"/><circle cx="602.8" cy="436.1" r="7.0" fill-opacity="0.07"/><circle cx="601.6" cy="434.3" r="7.0" fill-opacity="0.07"/><circle cx="601.6" cy="432.9" r="7.0" fill-opacity="0.07"/><circle cx="604.1" cy="433.2" r="7.0" fill-opacity="0.07"/><circle cx="604.5" cy="431.6" r="7.0" fill-opacity="0.07"/><circle cx="603.8" cy="433.0" r="7.0" fill-opacity="0.07"/><circle cx="602.6" cy="432.7" r="7.0" fill-opacity="0.07"/><circle cx="604.7" cy="431.0" r="7.0" fill-opacity="0.07"/><circle cx="601.7" cy="430.4" r="7.0" fill-opacity="0.07"/><circle cx="604.9" cy="428.1" r="7.0" fill-opacity="0.07"/><circle cx="602.2" cy="430.1" r="7.0" fill-opacity="0.07"/><circle cx="606.1" cy="429.8" r="7.0" fill-opacity="0.07"/><circle cx="606.5" cy="429.3" r="7.0" fill-opacity="0.07"/><circle cx="606.3" cy="428.0" r="7.0" fill-opacity="0.07"/><circle cx="606.4" cy="426.0" r="7.0" fill-opacity="0.07"/><circle cx="606.3" cy="426.1" r="7.0" fill-opacity="0.07"/><circle cx="607.1" cy="427.3" r="7.0" fill-opacity="0.07"/><circle cx="606.9" cy="426.5" r="7.0" fill-opacity="0.07"/><circle cx="607.3" cy="425.7" r="7.0" fill-opacity="0.07"/><circle cx="609.2" cy="425.8" r="7.0" fill-opacity="0.07"/><circle cx="609.2" cy="423.8" r="7.0" fill-opacity="0.07"/><circle cx="607.9" cy="419.5" r="7.0" fill-opacity="0.07"/><circle cx="606.4" cy="421.9" r="7.0" fill-opacity="0.07"/><circle cx="610.9" cy="422.7" r="7.0" fill-opacity="0.07"/><circle cx="611.6" cy="421.4" r="7.0" fill-opacity="0.07"/><circle cx="612.5" cy="423.5" r="7.0" fill-opacity="0.07"/><circle cx="611.6" cy="420.4" r="7.0" fill-opacity="0.07"/><circle cx="611.7" cy="421.8" r="7.0" fill-opacity="0.07"/><circle cx="611.6" cy="420.0" r="7.0" fill-opacity="0.07"/><circle cx="613.1" cy="419.3" r="7.0" fill-opacity="0.07"/><circle cx="613.8" cy="420.6" r="7.0" fill-opacity="0.07"/><circle cx="611.5" cy="418.4" r="7.0" fill-opacity="0.07"/><circle cx="614.0" cy="417.5" r="7.0" fill-opacity="0.07"/><circle cx="613.6" cy="416.8" r="7.0" fill-opacity="0.07"/><circle cx="613.7" cy="416.1" r="7.0" fill-opacity="0.07"/><circle cx="614.0" cy="418.1" r="7.0" fill-opacity="0.07"/><circle cx="613.8" cy="416.1" r="7.0" fill-opacity="0.07"/><circle cx="615.7" cy="413.8" r="7.0" fill-opacity="0.07"/><circle cx="616.2" cy="409.8" r="7.0" fill-opacity="0.07"/><circle cx="615.3" cy="413.9" r="7.0" fill-opacity="0.07"/><circle cx="617.1" cy="410.6" r="7.0" fill-opacity="0.07"/><circle cx="616.5" cy="413.9" r="7.0" fill-opacity="0.07"/><circle cx="616.1" cy="411.6" r="7.0" fill-opacity="0.07"/><circle cx="617.6" cy="408.7" r="7.0" fill-opacity="0.07"/><circle cx="618.2" cy="410.4" r="7.0" fill-opacity="0.07"/><circle cx="618.7" cy="409.4" r="7.0" fill-opacity="0.07"/><circle cx="618.3" cy="409.3" r="7.0" fill-opacity="0.07"/><circle cx="617.4" cy="407.7" r="7.0" fill-opacity="0.07"/><circle cx="622.1" cy="406.6" r="7.0" fill-opacity="0.07"/><circle cx="620.6" cy="405.8" r="7.0" fill-opacity="0.07"/><circle cx="621.1" cy="406.9" r="7.0" fill-opacity="0.07"/><circle cx="621.2" cy="408.4" r="7.0" fill-opacity="0.07"/><circle cx="621.5" cy="406.9" r="7.0" fill-opacity="0.07"/><circle cx="622.5" cy="408.2" r="7.0" fill-opacity="0.07"/><circle cx="624.1" cy="405.7" r="7.0" fill-opacity="0.07"/><circle cx="622.5" cy="405.9" r="7.0" fill-opacity="0.07"/><circle cx="624.8" cy="404.2" r="7.0" fill-opacity="0.07"/><circle cx="624.9" cy="405.0" r="7.0" fill-opacity="0.07"/><circle cx="625.6" cy="407.0" r="7.0" fill-opacity="0.07"/><circle cx="624.2" cy="406.3" r="7.0" fill-opacity="0.07"/><circle cx="624.5" cy="402.9" r="7.0" fill-opacity="0.07"/><circle cx="627.2" cy="404.1" r="7.0" fill-opacity="0.07"/><circle cx="626.2" cy="402.8" r="7.0" fill-opacity="0.07"/><circle cx="628.8" cy="403.7" r="7.0" fill-opacity="0.07"/><circle cx="629.6" cy="404.0" r="7.0" fill-opacity="0.07"/><circle cx="629.8" cy="402.2" r="7.0" fill-opacity="0.07"/><circle cx="629.5" cy="399.9" r="7.0" fill-opacity="0.07"/><circle cx="629.3" cy="402.1" r="7.0" fill-opacity="0.07"/><circle cx="631.7" cy="401.2" r="7.0" fill-opacity="0.07"/><circle cx="631.6" cy="398.6" r="7.0" fill-opacity="0.07"/><circle cx="630.8" cy="398.3" r="7.0" fill-opacity="0.07"/><circle cx="630.6" cy="397.9" r="7.0" fill-opacity="0.07"/><circle cx="632.4" cy="395.3" r="7.0" fill-opacity="0.07"/><circle cx="632.2" cy="396.3" r="7.0" fill-opacity="0.07"/><circle cx="632.1" cy="395.2" r="7.0" fill-opacity="0.07"/><circle cx="631.7" cy="396.6" r="7.0" fill-opacity="0.07"/><circle cx="633.5" cy="393.6" r="7.0" fill-opacity="0.07"/><circle cx="632.4" cy="390.7" r="7.0" fill-opacity="0.07"/><circle cx="636.3" cy="389.5" r="7.0" fill-opacity="0.07"/><circle cx="633.1" cy="389.7" r="7.0" fill-opacity="0.07"/><circle cx="636.1" cy="390.4" r="7.0" fill-opacity="0.07"/><circle cx="635.7" cy="390.7" r="7.0" fill-opacity="0.07"/><circle cx="636.7" cy="388.2" r="7.0" fill-opacity="0.07"/><circle cx="637.3" cy="391.1" r="7.0" fill-opacity="0.07"/><circle cx="637.1" cy="388.4" r="7.0" fill-opacity="0.07"/><circle cx="639.3" cy="386.3" r="7.0" fill-opacity="0.07"/><circle cx="638.1" cy="388.3" r="7.0" fill-opacity="0.07"/><circle cx="638.4" cy="388.0" r="7.0" fill-opacity="0.07"/><circle cx="638.4" cy="386.4" r="7.0" fill-opacity="0.07"/><circle cx="639.5" cy="387.1" r="7.0" fill-opacity="0.07"/><circle cx="640.8" cy="386.1" r="7.0" fill-opacity="0.07"/><circle cx="641.3" cy="385.0" r="7.0" fill-opacity="0.07"/><circle cx="640.9" cy="384.3" r="7.0" fill-opacity="0.07"/><circle cx="642.3" cy="385.6" r="7.0" fill-opacity="0.07"/><circle cx="640.7" cy="386.4" r="7.0" fill-opacity="0.07"/><circle cx="643.1" cy="378.5" r="7.0" fill-opacity="0.07"/><circle cx="642.4" cy="379.8" r="7.0" fill-opacity="0.07"/><circle cx="645.3" cy="382.9" r="7.0" fill-opacity="0.07"/><circle cx="644.1" cy="379.1" r="7.0" fill-opacity="0.07"/><circle cx="641.7" cy="381.0" r="7.0" fill-opacity="0.07"/><circle cx="644.7" cy="379.0" r="7.0" fill-opacity="0.07"/><circle cx="645.2" cy="379.6" r="7.0" fill-opacity="0.07"/><circle cx="646.1" cy="378.7" r="7.0" fill-opacity="0.07"/><circle cx="644.1" cy="376.8" r="7.0" fill-opacity="0.07"/><circle cx="644.4" cy="374.0" r="7.0" fill-opacity="0.07"/><circle cx="646.7" cy="375.3" r="7.0" fill-opacity="0.07"/><circle cx="646.0" cy="376.2" r="7.0" fill-opacity="0.07"/><circle cx="646.8" cy="376.2" r="7.0" fill-opacity="0.07"/><circle cx="646.3" cy="374.7" r="7.0" fill-opacity="0.07"/><circle cx="648.2" cy="373.7" r="7.0" fill-opacity="0.07"/><circle cx="649.5" cy="373.1" r="7.0" fill-opacity="0.07"/><circle cx="648.8" cy="375.0" r="7.0" fill-opacity="0.07"/><circle cx="649.5" cy="371.9" r="7.0" fill-opacity="0.07"/><circle cx="651.1" cy="374.5" r="7.0" fill-opacity="0.07"/><circle cx="649.0" cy="372.8" r="7.0" fill-opacity="0.07"/><circle cx="650.5" cy="370.8" r="7.0" fill-opacity="0.07"/><circle cx="648.1" cy="372.7" r="7.0" fill-opacity="0.07"/><circle cx="654.0" cy="371.1" r="7.0" fill-opacity="0.07"/><circle cx="654.9" cy="369.9" r="7.0" fill-opacity="0.07"/><circle cx="654.0" cy="371.6" r="7.0" fill-opacity="0.07"/><circle cx="656.3" cy="366.9" r="7.0" fill-opacity="0.07"/><circle cx="657.2" cy="366.6" r="7.0" fill-opacity="0.07"/><circle cx="657.7" cy="367.3" r="7.0" fill-opacity="0.07"/><circle cx="657.7" cy="369.2" r="7.0" fill-opacity="0.07"/><circle cx="657.4" cy="366.5" r="7.0" fill-opacity="0.07"/><circle cx="658.7" cy="365.9" r="7.0" fill-opacity="0.07"/><circle cx="659.5" cy="364.1" r="7.0" fill-opacity="0.07"/><circle cx="660.9" cy="362.8" r="7.0" fill-opacity="0.07"/><circle cx="656.9" cy="361.0" r="7.0" fill-opacity="0.07"/><circle cx="659.6" cy="362.6" r="7.0" fill-opacity="0.07"/><circle cx="658.9" cy="362.0" r="7.0" fill-opacity="0.07"/><circle cx="662.1" cy="361.9" r="7.0" fill-opacity="0.07"/><circle cx="663.6" cy="360.4" r="7.0" fill-opacity="0.07"/><circle cx="661.0" cy="361.2" r="7.0" fill-opacity="0.07"/><circle cx="661.2" cy="361.7" r="7.0" fill-opacity="0.07"/><circle cx="661.7" cy="358.6" r="7.0" fill-opacity="0.07"/><circle cx="662.0" cy="358.8" r="7.0" fill-opacity="0.07"/><circle cx="663.4" cy="360.1" r="7.0" fill-opacity="0.07"/><circle cx="666.6" cy="355.9" r="7.0" fill-opacity="0.07"/><circle cx="664.7" cy="356.6" r="7.0" fill-opacity="0.07"/><circle cx="665.7" cy="359.1" r="7.0" fill-opacity="0.07"/><circle cx="664.7" cy="357.1" r="7.0" fill-opacity="0.07"/><circle cx="665.8" cy="356.5" r="7.0" fill-opacity="0.07"/><circle cx="666.6" cy="355.9" r="7.0" fill-opacity="0.07"/><circle cx="665.5" cy="356.1" r="7.0" fill-opacity="0.07"/><circle cx="668.4" cy="351.9" r="7.0" fill-opacity="0.07"/><circle cx="669.3" cy="355.7" r="7.0" fill-opacity="0.07"/><circle cx="671.2" cy="353.7" r="7.0" fill-opacity="0.07"/><circle cx="668.5" cy="355.2" r="7.0" fill-opacity="0.07"/><circle cx="669.1" cy="352.3" r="7.0" fill-opacity="0.07"/><circle cx="673.9" cy="352.3" r="7.0" fill-opacity="0.07"/><circle cx="670.8" cy="351.6" r="7.0" fill-opacity="0.07"/><circle cx="673.3" cy="351.0" r="7.0" fill-opacity="0.07"/><circle cx="675.5" cy="353.2" r="7.0" fill-opacity="0.07"/><circle cx="675.3" cy="348.4" r="7.0" fill-opacity="0.07"/><circle cx="677.4" cy="351.0" r="7.0" fill-opacity="0.07"/><circle cx="677.3" cy="345.2" r="7.0" fill-opacity="0.07"/><circle cx="677.9" cy="347.7" r="7.0" fill-opacity="0.07"/><circle cx="675.2" cy="347.3" r="7.0" fill-opacity="0.07"/><circle cx="677.3" cy="343.6" r="7.0" fill-opacity="0.07"/><circle cx="675.6" cy="344.4" r="7.0" fill-opacity="0.07"/><circle cx="677.7" cy="345.4" r="7.0" fill-opacity="0.07"/><circle cx="675.9" cy="343.3" r="7.0" fill-opacity="0.07"/><circle cx="679.7" cy="344.3" r="7.0" fill-opacity="0.07"/><circle cx="678.3" cy="340.8" r="7.0" fill-opacity="0.07"/><circle cx="679.8" cy="340.6" r="7.0" fill-opacity="0.07"/><circle cx="677.9" cy="338.2" r="7.0" fill-opacity="0.07"/><circle cx="680.2" cy="338.3" r="7.0" fill-opacity="0.07"/><circle cx="680.0" cy="336.2" r="7.0" fill-opacity="0.07"/><circle cx="681.6" cy="335.9" r="7.0" fill-opacity="0.07"/><circle cx="682.0" cy="339.6" r="7.0" fill-opacity="0.07"/><circle cx="682.4" cy="337.0" r="7.0" fill-opacity="0.07"/><circle cx="683.9" cy="336.5" r="7.0" fill-opacity="0.07"/><circle cx="685.3" cy="334.7" r="7.0" fill-opacity="0.07"/><circle cx="682.6" cy="332.7" r="7.0" fill-opacity="0.07"/><circle cx="683.3" cy="335.9" r="7.0" fill-opacity="0.07"/><circle cx="684.5" cy="334.8" r="7.0" fill-opacity="0.07"/><circle cx="683.7" cy="331.9" r="7.0" fill-opacity="0.07"/><circle cx="683.5" cy="332.8" r="7.0" fill-opacity="0.07"/><circle cx="685.0" cy="332.7" r="7.0" fill-opacity="0.07"/><circle cx="688.0" cy="331.4" r="7.0" fill-opacity="0.07"/><circle cx="685.2" cy="331.4" r="7.0" fill-opacity="0.07"/><circle cx="688.8" cy="328.8" r="7.0" fill-opacity="0.07"/><circle cx="684.8" cy="327.5" r="7.0" fill-opacity="0.07"/><circle cx="686.9" cy="329.9" r="7.0" fill-opacity="0.07"/><circle cx="689.5" cy="329.8" r="7.0" fill-opacity="0.07"/><circle cx="688.6" cy="326.9" r="7.0" fill-opacity="0.07"/><circle cx="686.5" cy="326.7" r="7.0" fill-opacity="0.07"/><circle cx="687.8" cy="325.2" r="7.0" fill-opacity="0.07"/><circle cx="689.8" cy="324.0" r="7.0" fill-opacity="0.07"/><circle cx="691.6" cy="322.5" r="7.0" fill-opacity="0.07"/><circle cx="690.1" cy="323.1" r="7.0" fill-opacity="0.07"/><circle cx="693.6" cy="320.9" r="7.0" fill-opacity="0.07"/><circle cx="692.5" cy="319.8" r="7.0" fill-opacity="0.07"/><circle cx="692.8" cy="319.9" r="7.0" fill-opacity="0.07"/><circle cx="693.2" cy="317.1" r="7.0" fill-opacity="0.07"/><circle cx="693.8" cy="317.9" r="7.0" fill-opacity="0.07"/><circle cx="693.9" cy="315.5" r="7.0" fill-opacity="0.07"/><circle cx="695.6" cy="315.3" r="7.0" fill-opacity="0.07"/><circle cx="698.7" cy="315.0" r="7.0" fill-opacity="0.07"/><circle cx="695.4" cy="315.4" r="7.0" fill-opacity="0.07"/><circle cx="699.3" cy="312.8" r="7.0" fill-opacity="0.07"/><circle cx="697.4" cy="313.5" r="7.0" fill-opacity="0.07"/><circle cx="698.6" cy="314.6" r="7.0" fill-opacity="0.07"/><circle cx="697.9" cy="312.1" r="7.0" fill-opacity="0.07"/><circle cx="700.0" cy="311.5" r="7.0" fill-opacity="0.07"/><circle cx="699.5" cy="313.8" r="7.0" fill-opacity="0.07"/><circle cx="700.3" cy="312.1" r="7.0" fill-opacity="0.07"/><circle cx="699.9" cy="311.5" r="7.0" fill-opacity="0.07"/><circle cx="699.4" cy="311.9" r="7.0" fill-opacity="0.07"/><circle cx="699.6" cy="310.8" r="7.0" fill-opacity="0.07"/><circle cx="698.8" cy="310.9" r="7.0" fill-opacity="0.07"/><circle cx="702.4" cy="306.3" r="7.0" fill-opacity="0.07"/><circle cx="701.6" cy="303.6" r="7.0" fill-opacity="0.07"/><circle cx="704.9" cy="304.4" r="7.0" fill-opacity="0.07"/><circle cx="700.4" cy="304.6" r="7.0" fill-opacity="0.07"/><circle cx="702.3" cy="303.8" r="7.0" fill-opacity="0.07"/><circle cx="701.4" cy="300.1" r="7.0" fill-opacity="0.07"/><circle cx="704.4" cy="301.1" r="7.0" fill-opacity="0.07"/><circle cx="704.3" cy="303.1" r="7.0" fill-opacity="0.07"/><circle cx="705.8" cy="302.1" r="7.0" fill-opacity="0.07"/><circle cx="706.1" cy="299.5" r="7.0" fill-opacity="0.07"/><circle cx="708.4" cy="299.5" r="7.0" fill-opacity="0.07"/><circle cx="705.3" cy="298.3" r="7.0" fill-opacity="0.07"/><circle cx="707.9" cy="300.0" r="7.0" fill-opacity="0.07"/><circle cx="710.0" cy="300.3" r="7.0" fill-opacity="0.07"/><circle cx="710.2" cy="297.9" r="7.0" fill-opacity="0.07"/><circle cx="710.4" cy="296.2" r="7.0" fill-opacity="0.07"/><circle cx="711.0" cy="296.5" r="7.0" fill-opacity="0.07"/><circle cx="708.3" cy="297.4" r="7.0" fill-opacity="0.07"/><circle cx="714.3" cy="294.4" r="7.0" fill-opacity="0.07"/><circle cx="713.3" cy="293.6" r="7.0" fill-opacity="0.07"/><circle cx="715.7" cy="295.2" r="7.0" fill-opacity="0.07"/><circle cx="715.9" cy="292.5" r="7.0" fill-opacity="0.07"/><circle cx="718.3" cy="290.5" r="7.0" fill-opacity="0.07"/><circle cx="718.2" cy="292.8" r="7.0" fill-opacity="0.07"/><circle cx="716.9" cy="293.0" r="7.0" fill-opacity="0.07"/><circle cx="716.6" cy="290.5" r="7.0" fill-opacity="0.07"/><circle cx="718.2" cy="290.2" r="7.0" fill-opacity="0.07"/><circle cx="719.5" cy="289.0" r="7.0" fill-opacity="0.07"/><circle cx="721.0" cy="289.3" r="7.0" fill-opacity="0.07"/><circle cx="721.9" cy="286.8" r="7.0" fill-opacity="0.07"/><circle cx="720.5" cy="286.2" r="7.0" fill-opacity="0.07"/><circle cx="720.3" cy="288.2" r="7.0" fill-opacity="0.07"/><circle cx="722.0" cy="286.8" r="7.0" fill-opacity="0.07"/><circle cx="722.6" cy="289.6" r="7.0" fill-opacity="0.07"/><circle cx="721.0" cy="286.4" r="7.0" fill-opacity="0.07"/><circle cx="722.3" cy="282.3" r="7.0" fill-opacity="0.07"/><circle cx="720.8" cy="282.9" r="7.0" fill-opacity="0.07"/><circle cx="720.7" cy="283.5" r="7.0" fill-opacity="0.07"/><circle cx="725.1" cy="282.8" r="7.0" fill-opacity="0.07"/><circle cx="726.5" cy="283.3" r="7.0" fill-opacity="0.07"/><circle cx="727.5" cy="278.9" r="7.0" fill-opacity="0.07"/><circle cx="726.5" cy="280.0" r="7.0" fill-opacity="0.07"/><circle cx="728.7" cy="280.2" r="7.0" fill-opacity="0.07"/><circle cx="728.1" cy="277.0" r="7.0" fill-opacity="0.07"/><circle cx="729.2" cy="277.1" r="7.0" fill-opacity="0.07"/><circle cx="729.3" cy="276.1" r="7.0" fill-opacity="0.07"/><circle cx="731.0" cy="275.3" r="7.0" fill-opacity="0.07"/><circle cx="729.1" cy="271.1" r="7.0" fill-opacity="0.07"/><circle cx="730.8" cy="273.2" r="7.0" fill-opacity="0.07"/><circle cx="730.9" cy="272.7" r="7.0" fill-opacity="0.07"/><circle cx="731.5" cy="270.8" r="7.0" fill-opacity="0.07"/><circle cx="731.2" cy="270.2" r="7.0" fill-opacity="0.07"/><circle cx="730.3" cy="267.2" r="7.0" fill-opacity="0.07"/><circle cx="730.0" cy="268.3" r="7.0" fill-opacity="0.07"/><circle cx="734.7" cy="266.1" r="7.0" fill-opacity="0.07"/><circle cx="734.0" cy="266.7" r="7.0" fill-opacity="0.07"/><circle cx="733.1" cy="266.1" r="7.0" fill-opacity="0.07"/><circle cx="736.1" cy="264.7" r="7.0" fill-opacity="0.07"/><circle cx="738.4" cy="264.0" r="7.0" fill-opacity="0.07"/><circle cx="737.3" cy="264.6" r="7.0" fill-opacity="0.07"/><circle cx="738.3" cy="264.6" r="7.0" fill-opacity="0.07"/><circle cx="743.1" cy="265.1" r="7.0" fill-opacity="0.07"/><circle cx="739.3" cy="265.1" r="7.0" fill-opacity="0.07"/><circle cx="741.5" cy="261.9" r="7.0" fill-opacity="0.07"/><circle cx="741.1" cy="263.1" r="7.0" fill-opacity="0.07"/><circle cx="741.0" cy="265.4" r="7.0" fill-opacity="0.07"/><circle cx="743.7" cy="262.1" r="7.0" fill-opacity="0.07"/><circle cx="744.8" cy="261.8" r="7.0" fill-opacity="0.07"/><circle cx="747.4" cy="258.8" r="7.0" fill-opacity="0.07"/><circle cx="745.8" cy="258.9" r="7.0" fill-opacity="0.07"/><circle cx="746.0" cy="258.8" r="7.0" fill-opacity="0.07"/><circle cx="745.3" cy="258.1" r="7.0" fill-opacity="0.07"/><circle cx="746.6" cy="259.0" r="7.0" fill-opacity="0.07"/><circle cx="748.2" cy="256.1" r="7.0" fill-opacity="0.07"/><circle cx="747.1" cy="256.8" r="7.0" fill-opacity="0.07"/><circle cx="746.5" cy="258.9" r="7.0" fill-opacity="0.07"/><circle cx="748.4" cy="253.4" r="7.0" fill-opacity="0.07"/><circle cx="749.0" cy="249.5" r="7.0" fill-opacity="0.07"/><circle cx="748.8" cy="248.3" r="7.0" fill-opacity="0.07"/><circle cx="748.9" cy="247.6" r="7.0" fill-opacity="0.07"/><circle cx="751.5" cy="247.2" r="7.0" fill-opacity="0.07"/><circle cx="749.1" cy="246.9" r="7.0" fill-opacity="0.07"/><circle cx="750.7" cy="245.7" r="7.0" fill-opacity="0.07"/><circle cx="751.2" cy="240.3" r="7.0" fill-opacity="0.07"/><circle cx="749.8" cy="246.0" r="7.0" fill-opacity="0.07"/><circle cx="750.4" cy="244.5" r="7.0" fill-opacity="0.07"/><circle cx="750.8" cy="241.5" r="7.0" fill-opacity="0.07"/><circle cx="749.7" cy="241.3" r="7.0" fill-opacity="0.07"/><circle cx="751.7" cy="239.8" r="7.0" fill-opacity="0.07"/><circle cx="754.6" cy="238.5" r="7.0" fill-opacity="0.07"/><circle cx="752.3" cy="239.8" r="7.0" fill-opacity="0.07"/><circle cx="754.3" cy="238.1" r="7.0" fill-opacity="0.07"/><circle cx="752.8" cy="239.4" r="7.0" fill-opacity="0.07"/><circle cx="754.6" cy="233.3" r="7.0" fill-opacity="0.07"/><circle cx="754.2" cy="234.6" r="7.0" fill-opacity="0.07"/><circle cx="754.8" cy="236.1" r="7.0" fill-opacity="0.07"/><circle cx="754.9" cy="232.3" r="7.0" fill-opacity="0.07"/><circle cx="756.1" cy="230.6" r="7.0" fill-opacity="0.07"/><circle cx="754.6" cy="233.4" r="7.0" fill-opacity="0.07"/><circle cx="755.4" cy="230.0" r="7.0" fill-opacity="0.07"/><circle cx="754.6" cy="228.5" r="7.0" fill-opacity="0.07"/><circle cx="757.6" cy="225.8" r="7.0" fill-opacity="0.07"/><circle cx="757.1" cy="226.5" r="7.0" fill-opacity="0.07"/><circle cx="758.4" cy="225.4" r="7.0" fill-opacity="0.07"/><circle cx="756.2" cy="227.2" r="7.0" fill-opacity="0.07"/><circle cx="760.5" cy="224.9" r="7.0" fill-opacity="0.07"/><circle cx="760.9" cy="220.9" r="7.0" fill-opacity="0.07"/><circle cx="763.2" cy="219.9" r="7.0" fill-opacity="0.07"/><circle cx="762.0" cy="220.5" r="7.0" fill-opacity="0.07"/><circle cx="763.8" cy="222.4" r="7.0" fill-opacity="0.07"/><circle cx="763.2" cy="219.6" r="7.0" fill-opacity="0.07"/><circle cx="767.1" cy="217.4" r="7.0" fill-opacity="0.07"/><circle cx="763.0" cy="218.7" r="7.0" fill-opacity="0.07"/><circle cx="767.0" cy="216.4" r="7.0" fill-opacity="0.07"/><circle cx="767.6" cy="210.5" r="7.0" fill-opacity="0.07"/><circle cx="767.0" cy="212.8" r="7.0" fill-opacity="0.07"/><circle cx="766.8" cy="210.0" r="7.0" fill-opacity="0.07"/><circle cx="766.5" cy="209.3" r="7.0" fill-opacity="0.07"/><circle cx="763.4" cy="212.1" r="7.0" fill-opacity="0.07"/><circle cx="768.4" cy="209.5" r="7.0" fill-opacity="0.07"/><circle cx="764.2" cy="209.6" r="7.0" fill-opacity="0.07"/><circle cx="765.1" cy="205.3" r="7.0" fill-opacity="0.07"/><circle cx="770.7" cy="207.3" r="7.0" fill-opacity="0.07"/><circle cx="767.9" cy="210.5" r="7.0" fill-opacity="0.07"/><circle cx="771.8" cy="207.3" r="7.0" fill-opacity="0.07"/><circle cx="771.5" cy="204.8" r="7.0" fill-opacity="0.07"/><circle cx="773.4" cy="205.3" r="7.0" fill-opacity="0.07"/><circle cx="773.7" cy="203.7" r="7.0" fill-opacity="0.07"/><circle cx="773.4" cy="205.6" r="7.0" fill-opacity="0.07"/><circle cx="777.7" cy="203.5" r="7.0" fill-opacity="0.07"/><circle cx="777.0" cy="200.8" r="7.0" fill-opacity="0.07"/><circle cx="778.2" cy="201.0" r="7.0" fill-opacity="0.07"/><circle cx="778.3" cy="197.9" r="7.0" fill-opacity="0.07"/><circle cx="783.3" cy="196.3" r="7.0" fill-opacity="0.07"/><circle cx="779.1" cy="195.6" r="7.0" fill-opacity="0.07"/><circle cx="781.4" cy="192.8" r="7.0" fill-opacity="0.07"/><circle cx="784.3" cy="190.4" r="7.0" fill-opacity="0.07"/><circle cx="781.9" cy="190.7" r="7.0" fill-opacity="0.07"/><circle cx="783.8" cy="192.9" r="7.0" fill-opacity="0.07"/><circle cx="783.3" cy="190.2" r="7.0" fill-opacity="0.07"/><circle cx="787.3" cy="187.7" r="7.0" fill-opacity="0.07"/><circle cx="784.0" cy="189.2" r="7.0" fill-opacity="0.07"/><circle cx="786.7" cy="189.8" r="7.0" fill-opacity="0.07"/><circle cx="785.8" cy="188.6" r="7.0" fill-opacity="0.07"/><circle cx="787.9" cy="188.5" r="7.0" fill-opacity="0.07"/><circle cx="789.1" cy="186.3" r="7.0" fill-opacity="0.07"/><circle cx="789.2" cy="183.2" r="7.0" fill-opacity="0.07"/><circle cx="791.7" cy="183.2" r="7.0" fill-opacity="0.07"/><circle cx="790.4" cy="184.4" r="7.0" fill-opacity="0.07"/><circle cx="794.3" cy="176.6" r="7.0" fill-opacity="0.07"/><circle cx="791.1" cy="178.6" r="7.0" fill-opacity="0.07"/><circle cx="792.2" cy="178.4" r="7.0" fill-opacity="0.07"/><circle cx="793.5" cy="177.4" r="7.0" fill-opacity="0.07"/><circle cx="792.3" cy="179.4" r="7.0" fill-opacity="0.07"/><circle cx="793.1" cy="177.5" r="7.0" fill-opacity="0.07"/><circle cx="793.4" cy="177.6" r="7.0" fill-opacity="0.07"/><circle cx="793.7" cy="178.4" r="7.0" fill-opacity="0.07"/><circle cx="793.0" cy="179.0" r="7.0" fill-opacity="0.07"/><circle cx="798.5" cy="171.3" r="7.0" fill-opacity="0.07"/><circle cx="802.6" cy="170.4" r="7.0" fill-opacity="0.07"/><circle cx="803.1" cy="158.1" r="7.0" fill-opacity="0.07"/><circle cx="806.3" cy="155.6" r="7.0" fill-opacity="0.07"/></g>
<line x1="102.50" y1="835.32" x2="806.50" y2="237.17" stroke="#f00" stroke-opacity="0.33" stroke-width="4.17" stroke-linecap="square"/>
<line x1="60" y1="886.45" x2="850" y2="101.55" stroke="#00f" stroke-opacity="0.33" stroke-width="4.17" stroke-linecap="square"/>
</g>
<g stroke="#000" stroke-width="1.11"><line x1="102.50" y1="880.5" x2="102.50" y2="885.36"/><line x1="190.50" y1="880.5" x2="190.50" y2="885.36"/><line x1="278.50" y1="880.5" x2="278.50" y2="885.36"/><line x1="366.50" y1="880.5" x2="366.50" y2="885.36"/><line x1="454.50" y1="880.5" x2="454.50" y2="885.36"/><line x1="542.50" y1="880.5" x2="542.50" y2="885.36"/><line x1="630.50" y1="880.5" x2="630.50" y2="885.36"/><line x1="718.50" y1="880.5" x2="718.50" y2="885.36"/><line x1="806.50" y1="880.5" x2="806.50" y2="885.36"/><line x1="62.64" y1="845.50" x2="67.5" y2="845.50"/><line x1="62.64" y1="757.50" x2="67.5" y2="757.50"/><line x1="62.64" y1="670.50" x2="67.5" y2="670.50"/><line x1="62.64" y1="583.50" x2="67.5" y2="583.50"/><line x1="62.64" y1="495.50" x2="67.5" y2="495.50"/><line x1="62.64" y1="408.50" x2="67.5" y2="408.50"/><line x1="62.64" y1="320.50" x2="67.5" y2="320.50"/><line x1="62.64" y1="233.50" x2="67.5" y2="233.50"/><line x1="62.64" y1="146.50" x2="67.5" y2="146.50"/></g>
<rect x="67.5" y="110.5" width="775.0" height="770.0" fill="none" stroke="#000" stroke-width="1.11"/>
<g font-size="13.89px" letter-spacing="-0.55"><text x="102.30" y="901.2" text-anchor="middle">0</text><text x="189.50" y="901.2" text-anchor="middle">100</text><text x="277.50" y="901.2" text-anchor="middle">200</text><text x="365.50" y="901.2" text-anchor="middle">300</text><text x="453.50" y="901.2" text-anchor="middle">400</text><text x="541.50" y="901.2" text-anchor="middle">500</text><text x="629.50" y="901.2" text-anchor="middle">600</text><text x="717.50" y="901.2" text-anchor="middle">700</text><text x="805.50" y="901.2" text-anchor="middle">800</text><text x="57.00" y="850.30" text-anchor="end">0</text><text x="55.50" y="762.80" text-anchor="end">100</text><text x="55.50" y="675.80" text-anchor="end">200</text><text x="55.50" y="588.80" text-anchor="end">300</text><text x="55.50" y="500.80" text-anchor="end">400</text><text x="55.50" y="413.80" text-anchor="end">500</text><text x="55.50" y="325.80" text-anchor="end">600</text><text x="55.50" y="238.80" text-anchor="end">700</text><text x="55.50" y="151.80" text-anchor="end">800</text></g>
<text x="453.6" y="921" font-size="16.67px" text-anchor="middle">Simulated</text>
<text transform="translate(21.5,496.8) rotate(-90)" font-size="16.67px" text-anchor="middle">Observed</text>
<g font-size="19.44px" text-anchor="middle">
<text x="441.5" y="25">Q-Q plot at is.vi.7476 for downward_shortwave_flux</text>
<text x="441.5" y="48">from rav2-09-10 during year</text>
</g>
</svg>
</body></html>
